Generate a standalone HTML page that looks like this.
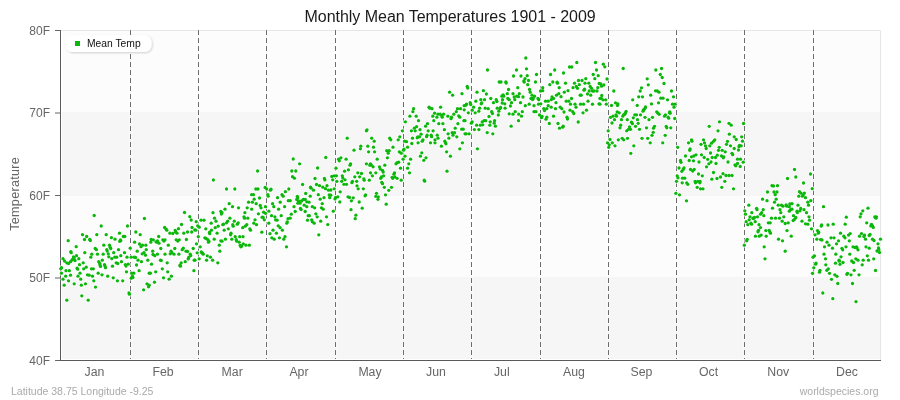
<!DOCTYPE html>
<html><head><meta charset="utf-8"><title>Monthly Mean Temperatures 1901 - 2009</title>
<style>
html,body{margin:0;padding:0;background:#fff;}
body{width:900px;height:400px;overflow:hidden;font-family:"Liberation Sans",sans-serif;}
svg{display:block;font-family:"Liberation Sans",sans-serif;}
</style></head><body>
<svg width="900" height="400" viewBox="0 0 900 400">
<defs>
<filter id="sh" x="-10%" y="-30%" width="120%" height="170%"><feGaussianBlur in="SourceAlpha" stdDeviation="1.2"/><feOffset dx="1" dy="1"/><feComponentTransfer><feFuncA type="linear" slope="0.18"/></feComponentTransfer><feMerge><feMergeNode/><feMergeNode in="SourceGraphic"/></feMerge></filter>
</defs>
<rect x="0" y="0" width="900" height="400" fill="#ffffff"/>
<g opacity="0.999">

<rect x="62" y="31" width="818" height="81" fill="#fcfcfc"/>
<rect x="62" y="112" width="818" height="84" fill="#f6f6f6"/>
<rect x="62" y="196" width="818" height="81" fill="#fcfcfc"/>
<rect x="62" y="277" width="818" height="82" fill="#f6f6f6"/>
<path d="M61 30.5H880.5V360" fill="none" stroke="#e6e6e6" stroke-width="1"/>
<line x1="130.5" y1="29.5" x2="130.5" y2="359" stroke="#fff" stroke-opacity="0.6" stroke-width="3" stroke-dasharray="6 2"/>
<line x1="130.5" y1="30" x2="130.5" y2="359" stroke="#6c6c6c" stroke-width="1" stroke-dasharray="5 3"/>
<line x1="198.5" y1="29.5" x2="198.5" y2="359" stroke="#fff" stroke-opacity="0.6" stroke-width="3" stroke-dasharray="6 2"/>
<line x1="198.5" y1="30" x2="198.5" y2="359" stroke="#6c6c6c" stroke-width="1" stroke-dasharray="5 3"/>
<line x1="266.5" y1="29.5" x2="266.5" y2="359" stroke="#fff" stroke-opacity="0.6" stroke-width="3" stroke-dasharray="6 2"/>
<line x1="266.5" y1="30" x2="266.5" y2="359" stroke="#6c6c6c" stroke-width="1" stroke-dasharray="5 3"/>
<line x1="335.5" y1="29.5" x2="335.5" y2="359" stroke="#fff" stroke-opacity="0.6" stroke-width="3" stroke-dasharray="6 2"/>
<line x1="335.5" y1="30" x2="335.5" y2="359" stroke="#6c6c6c" stroke-width="1" stroke-dasharray="5 3"/>
<line x1="403.5" y1="29.5" x2="403.5" y2="359" stroke="#fff" stroke-opacity="0.6" stroke-width="3" stroke-dasharray="6 2"/>
<line x1="403.5" y1="30" x2="403.5" y2="359" stroke="#6c6c6c" stroke-width="1" stroke-dasharray="5 3"/>
<line x1="471.5" y1="29.5" x2="471.5" y2="359" stroke="#fff" stroke-opacity="0.6" stroke-width="3" stroke-dasharray="6 2"/>
<line x1="471.5" y1="30" x2="471.5" y2="359" stroke="#6c6c6c" stroke-width="1" stroke-dasharray="5 3"/>
<line x1="540.5" y1="29.5" x2="540.5" y2="359" stroke="#fff" stroke-opacity="0.6" stroke-width="3" stroke-dasharray="6 2"/>
<line x1="540.5" y1="30" x2="540.5" y2="359" stroke="#6c6c6c" stroke-width="1" stroke-dasharray="5 3"/>
<line x1="608.5" y1="29.5" x2="608.5" y2="359" stroke="#fff" stroke-opacity="0.6" stroke-width="3" stroke-dasharray="6 2"/>
<line x1="608.5" y1="30" x2="608.5" y2="359" stroke="#6c6c6c" stroke-width="1" stroke-dasharray="5 3"/>
<line x1="676.5" y1="29.5" x2="676.5" y2="359" stroke="#fff" stroke-opacity="0.6" stroke-width="3" stroke-dasharray="6 2"/>
<line x1="676.5" y1="30" x2="676.5" y2="359" stroke="#6c6c6c" stroke-width="1" stroke-dasharray="5 3"/>
<line x1="744.5" y1="29.5" x2="744.5" y2="359" stroke="#fff" stroke-opacity="0.6" stroke-width="3" stroke-dasharray="6 2"/>
<line x1="744.5" y1="30" x2="744.5" y2="359" stroke="#6c6c6c" stroke-width="1" stroke-dasharray="5 3"/>
<line x1="813.5" y1="29.5" x2="813.5" y2="359" stroke="#fff" stroke-opacity="0.6" stroke-width="3" stroke-dasharray="6 2"/>
<line x1="813.5" y1="30" x2="813.5" y2="359" stroke="#6c6c6c" stroke-width="1" stroke-dasharray="5 3"/>
<rect x="60" y="30" width="1" height="331" fill="#5a5a5a"/>
<rect x="60" y="360" width="821" height="1" fill="#5a5a5a"/>
<rect x="55" y="30.0" width="5" height="1" fill="#666"/>
<text x="50" y="34.5" font-size="12" fill="#666" text-anchor="end">80F</text>
<rect x="55" y="112.5" width="5" height="1" fill="#666"/>
<text x="50" y="117.0" font-size="12" fill="#666" text-anchor="end">70F</text>
<rect x="55" y="195.0" width="5" height="1" fill="#666"/>
<text x="50" y="199.5" font-size="12" fill="#666" text-anchor="end">60F</text>
<rect x="55" y="277.5" width="5" height="1" fill="#666"/>
<text x="50" y="282.0" font-size="12" fill="#666" text-anchor="end">50F</text>
<rect x="55" y="360.0" width="5" height="1" fill="#666"/>
<text x="50" y="364.5" font-size="12" fill="#666" text-anchor="end">40F</text>
<g fill="#ffffff" fill-opacity="0.75">
<circle cx="94.2" cy="215.5" r="2.5"/><circle cx="101.2" cy="226.0" r="2.5"/><circle cx="127.5" cy="226.0" r="2.5"/><circle cx="144.4" cy="218.5" r="2.5"/><circle cx="184.5" cy="212.5" r="2.5"/><circle cx="189.8" cy="216.7" r="2.5"/><circle cx="191.2" cy="220.0" r="2.5"/><circle cx="181.5" cy="224.5" r="2.5"/><circle cx="164.6" cy="227.5" r="2.5"/><circle cx="166.8" cy="230.2" r="2.5"/><circle cx="178.5" cy="228.7" r="2.5"/><circle cx="175.2" cy="230.5" r="2.5"/><circle cx="192.0" cy="227.5" r="2.5"/><circle cx="194.7" cy="229.8" r="2.5"/><circle cx="187.5" cy="232.0" r="2.5"/><circle cx="191.7" cy="232.0" r="2.5"/><circle cx="183.8" cy="233.2" r="2.5"/><circle cx="169.9" cy="233.2" r="2.5"/><circle cx="172.8" cy="233.5" r="2.5"/><circle cx="177.0" cy="233.2" r="2.5"/><circle cx="135.8" cy="232.0" r="2.5"/><circle cx="140.2" cy="234.7" r="2.5"/><circle cx="82.5" cy="234.7" r="2.5"/><circle cx="86.7" cy="236.5" r="2.5"/><circle cx="84.5" cy="239.5" r="2.5"/><circle cx="89.7" cy="239.5" r="2.5"/><circle cx="96.8" cy="234.7" r="2.5"/><circle cx="106.2" cy="234.7" r="2.5"/><circle cx="111.4" cy="237.7" r="2.5"/><circle cx="115.0" cy="239.2" r="2.5"/><circle cx="119.5" cy="233.2" r="2.5"/><circle cx="123.3" cy="236.5" r="2.5"/><circle cx="124.8" cy="236.5" r="2.5"/><circle cx="120.8" cy="240.7" r="2.5"/><circle cx="119.7" cy="241.3" r="2.5"/><circle cx="68.2" cy="240.7" r="2.5"/><circle cx="158.7" cy="236.5" r="2.5"/><circle cx="151.2" cy="239.5" r="2.5"/><circle cx="153.3" cy="239.8" r="2.5"/><circle cx="157.5" cy="241.0" r="2.5"/><circle cx="159.0" cy="243.2" r="2.5"/><circle cx="156.0" cy="241.8" r="2.5"/><circle cx="150.8" cy="242.2" r="2.5"/><circle cx="162.8" cy="239.8" r="2.5"/><circle cx="165.0" cy="239.8" r="2.5"/><circle cx="163.9" cy="241.0" r="2.5"/><circle cx="176.2" cy="239.8" r="2.5"/><circle cx="179.2" cy="239.8" r="2.5"/><circle cx="177.8" cy="241.0" r="2.5"/><circle cx="186.4" cy="239.5" r="2.5"/><circle cx="134.6" cy="242.2" r="2.5"/><circle cx="139.5" cy="244.0" r="2.5"/><circle cx="142.5" cy="245.2" r="2.5"/><circle cx="145.8" cy="245.2" r="2.5"/><circle cx="141.0" cy="246.7" r="2.5"/><circle cx="76.2" cy="246.7" r="2.5"/><circle cx="103.8" cy="245.2" r="2.5"/><circle cx="109.5" cy="245.2" r="2.5"/><circle cx="110.2" cy="247.3" r="2.5"/><circle cx="110.7" cy="248.5" r="2.5"/><circle cx="106.8" cy="249.7" r="2.5"/><circle cx="95.2" cy="248.5" r="2.5"/><circle cx="96.4" cy="249.7" r="2.5"/><circle cx="118.5" cy="249.7" r="2.5"/><circle cx="130.2" cy="248.2" r="2.5"/><circle cx="137.2" cy="251.2" r="2.5"/><circle cx="146.2" cy="249.7" r="2.5"/><circle cx="152.7" cy="251.2" r="2.5"/><circle cx="160.8" cy="248.5" r="2.5"/><circle cx="168.3" cy="245.2" r="2.5"/><circle cx="174.8" cy="248.5" r="2.5"/><circle cx="171.0" cy="251.2" r="2.5"/><circle cx="183.3" cy="248.2" r="2.5"/><circle cx="182.2" cy="249.7" r="2.5"/><circle cx="186.0" cy="251.2" r="2.5"/><circle cx="187.5" cy="251.5" r="2.5"/><circle cx="193.2" cy="248.5" r="2.5"/><circle cx="71.2" cy="252.7" r="2.5"/><circle cx="84.8" cy="252.7" r="2.5"/><circle cx="91.8" cy="254.2" r="2.5"/><circle cx="90.8" cy="257.2" r="2.5"/><circle cx="97.5" cy="254.2" r="2.5"/><circle cx="103.2" cy="254.2" r="2.5"/><circle cx="108.3" cy="253.8" r="2.5"/><circle cx="108.8" cy="256.8" r="2.5"/><circle cx="113.7" cy="252.7" r="2.5"/><circle cx="120.8" cy="255.7" r="2.5"/><circle cx="124.5" cy="252.7" r="2.5"/><circle cx="127.0" cy="257.2" r="2.5"/><circle cx="131.2" cy="257.2" r="2.5"/><circle cx="134.2" cy="257.2" r="2.5"/><circle cx="142.2" cy="253.8" r="2.5"/><circle cx="144.0" cy="252.7" r="2.5"/><circle cx="145.5" cy="255.2" r="2.5"/><circle cx="154.8" cy="255.7" r="2.5"/><circle cx="153.0" cy="254.5" r="2.5"/><circle cx="157.5" cy="254.2" r="2.5"/><circle cx="165.0" cy="254.2" r="2.5"/><circle cx="170.2" cy="253.8" r="2.5"/><circle cx="171.8" cy="252.7" r="2.5"/><circle cx="174.0" cy="254.2" r="2.5"/><circle cx="178.9" cy="254.2" r="2.5"/><circle cx="190.2" cy="254.2" r="2.5"/><circle cx="188.7" cy="257.5" r="2.5"/><circle cx="63.0" cy="258.7" r="2.5"/><circle cx="76.5" cy="255.7" r="2.5"/><circle cx="74.2" cy="257.8" r="2.5"/><circle cx="72.8" cy="259.3" r="2.5"/><circle cx="78.8" cy="258.7" r="2.5"/><circle cx="70.5" cy="261.7" r="2.5"/><circle cx="66.8" cy="262.8" r="2.5"/><circle cx="75.0" cy="260.5" r="2.5"/><circle cx="83.2" cy="262.8" r="2.5"/><circle cx="79.5" cy="264.7" r="2.5"/><circle cx="98.7" cy="261.7" r="2.5"/><circle cx="102.3" cy="260.2" r="2.5"/><circle cx="99.8" cy="263.5" r="2.5"/><circle cx="111.8" cy="258.7" r="2.5"/><circle cx="114.8" cy="257.2" r="2.5"/><circle cx="116.7" cy="257.2" r="2.5"/><circle cx="116.2" cy="262.8" r="2.5"/><circle cx="117.8" cy="263.5" r="2.5"/><circle cx="121.5" cy="261.7" r="2.5"/><circle cx="104.5" cy="264.7" r="2.5"/><circle cx="138.0" cy="260.2" r="2.5"/><circle cx="141.4" cy="261.7" r="2.5"/><circle cx="147.8" cy="260.2" r="2.5"/><circle cx="160.5" cy="260.2" r="2.5"/><circle cx="161.2" cy="260.5" r="2.5"/><circle cx="167.2" cy="262.8" r="2.5"/><circle cx="181.2" cy="262.8" r="2.5"/><circle cx="185.2" cy="261.7" r="2.5"/><circle cx="194.2" cy="260.2" r="2.5"/><circle cx="128.2" cy="264.2" r="2.5"/><circle cx="151.5" cy="264.2" r="2.5"/><circle cx="61.5" cy="267.7" r="2.5"/><circle cx="60.8" cy="268.8" r="2.5"/><circle cx="66.0" cy="270.7" r="2.5"/><circle cx="69.3" cy="270.7" r="2.5"/><circle cx="61.5" cy="273.2" r="2.5"/><circle cx="65.7" cy="276.2" r="2.5"/><circle cx="70.5" cy="275.2" r="2.5"/><circle cx="63.0" cy="279.2" r="2.5"/><circle cx="68.5" cy="280.8" r="2.5"/><circle cx="64.2" cy="285.2" r="2.5"/><circle cx="74.2" cy="283.8" r="2.5"/><circle cx="77.7" cy="269.2" r="2.5"/><circle cx="80.0" cy="273.2" r="2.5"/><circle cx="78.0" cy="276.2" r="2.5"/><circle cx="80.7" cy="279.2" r="2.5"/><circle cx="81.3" cy="285.2" r="2.5"/><circle cx="83.7" cy="268.8" r="2.5"/><circle cx="86.2" cy="267.2" r="2.5"/><circle cx="85.5" cy="283.8" r="2.5"/><circle cx="87.5" cy="274.8" r="2.5"/><circle cx="89.2" cy="275.2" r="2.5"/><circle cx="91.5" cy="268.8" r="2.5"/><circle cx="93.3" cy="268.8" r="2.5"/><circle cx="92.5" cy="276.2" r="2.5"/><circle cx="93.8" cy="280.8" r="2.5"/><circle cx="95.5" cy="287.1" r="2.5"/><circle cx="98.2" cy="273.2" r="2.5"/><circle cx="102.0" cy="274.8" r="2.5"/><circle cx="107.7" cy="276.2" r="2.5"/><circle cx="113.2" cy="277.8" r="2.5"/><circle cx="117.4" cy="280.8" r="2.5"/><circle cx="122.7" cy="280.8" r="2.5"/><circle cx="126.5" cy="271.8" r="2.5"/><circle cx="66.8" cy="300.2" r="2.5"/><circle cx="81.8" cy="295.8" r="2.5"/><circle cx="88.2" cy="300.2" r="2.5"/><circle cx="129.0" cy="292.8" r="2.5"/><circle cx="129.4" cy="294.2" r="2.5"/><circle cx="131.7" cy="273.2" r="2.5"/><circle cx="133.8" cy="273.2" r="2.5"/><circle cx="132.4" cy="276.2" r="2.5"/><circle cx="131.2" cy="278.2" r="2.5"/><circle cx="139.1" cy="270.7" r="2.5"/><circle cx="149.2" cy="273.2" r="2.5"/><circle cx="150.4" cy="273.2" r="2.5"/><circle cx="155.7" cy="271.8" r="2.5"/><circle cx="162.3" cy="268.8" r="2.5"/><circle cx="167.7" cy="271.8" r="2.5"/><circle cx="171.4" cy="276.2" r="2.5"/><circle cx="163.5" cy="277.8" r="2.5"/><circle cx="169.1" cy="279.2" r="2.5"/><circle cx="154.5" cy="282.2" r="2.5"/><circle cx="147.0" cy="283.8" r="2.5"/><circle cx="149.2" cy="285.2" r="2.5"/><circle cx="148.5" cy="286.8" r="2.5"/><circle cx="143.6" cy="289.8" r="2.5"/><circle cx="180.4" cy="266.2" r="2.5"/><circle cx="193.9" cy="270.7" r="2.5"/><circle cx="112.5" cy="266.2" r="2.5"/><circle cx="136.5" cy="265.0" r="2.5"/><circle cx="213.4" cy="180.0" r="2.5"/><circle cx="257.6" cy="171.0" r="2.5"/><circle cx="226.5" cy="189.0" r="2.5"/><circle cx="234.8" cy="189.0" r="2.5"/><circle cx="255.8" cy="189.0" r="2.5"/><circle cx="258.0" cy="189.0" r="2.5"/><circle cx="265.1" cy="187.5" r="2.5"/><circle cx="266.7" cy="189.0" r="2.5"/><circle cx="270.4" cy="190.2" r="2.5"/><circle cx="251.6" cy="194.7" r="2.5"/><circle cx="253.5" cy="194.7" r="2.5"/><circle cx="254.2" cy="199.2" r="2.5"/><circle cx="259.5" cy="198.0" r="2.5"/><circle cx="248.6" cy="202.2" r="2.5"/><circle cx="252.4" cy="202.2" r="2.5"/><circle cx="256.2" cy="203.7" r="2.5"/><circle cx="229.2" cy="203.7" r="2.5"/><circle cx="232.5" cy="206.7" r="2.5"/><circle cx="238.5" cy="207.8" r="2.5"/><circle cx="247.2" cy="207.8" r="2.5"/><circle cx="225.0" cy="209.2" r="2.5"/><circle cx="251.7" cy="209.2" r="2.5"/><circle cx="260.2" cy="205.5" r="2.5"/><circle cx="261.0" cy="207.8" r="2.5"/><circle cx="265.5" cy="206.7" r="2.5"/><circle cx="267.8" cy="194.7" r="2.5"/><circle cx="268.2" cy="196.2" r="2.5"/><circle cx="272.6" cy="203.7" r="2.5"/><circle cx="273.8" cy="206.7" r="2.5"/><circle cx="277.5" cy="197.7" r="2.5"/><circle cx="280.2" cy="202.2" r="2.5"/><circle cx="282.0" cy="194.7" r="2.5"/><circle cx="283.2" cy="196.2" r="2.5"/><circle cx="285.4" cy="191.7" r="2.5"/><circle cx="288.8" cy="189.0" r="2.5"/><circle cx="288.3" cy="200.7" r="2.5"/><circle cx="290.2" cy="200.7" r="2.5"/><circle cx="284.6" cy="206.7" r="2.5"/><circle cx="278.6" cy="209.2" r="2.5"/><circle cx="293.2" cy="159.0" r="2.5"/><circle cx="299.6" cy="163.8" r="2.5"/><circle cx="291.8" cy="171.0" r="2.5"/><circle cx="295.8" cy="171.0" r="2.5"/><circle cx="292.5" cy="176.7" r="2.5"/><circle cx="294.4" cy="178.2" r="2.5"/><circle cx="302.6" cy="184.5" r="2.5"/><circle cx="305.7" cy="193.5" r="2.5"/><circle cx="297.8" cy="197.7" r="2.5"/><circle cx="296.7" cy="199.5" r="2.5"/><circle cx="298.5" cy="201.0" r="2.5"/><circle cx="297.8" cy="203.2" r="2.5"/><circle cx="301.5" cy="201.0" r="2.5"/><circle cx="300.0" cy="203.2" r="2.5"/><circle cx="303.3" cy="199.5" r="2.5"/><circle cx="305.2" cy="199.5" r="2.5"/><circle cx="306.8" cy="201.8" r="2.5"/><circle cx="309.0" cy="202.2" r="2.5"/><circle cx="304.2" cy="205.2" r="2.5"/><circle cx="306.8" cy="206.7" r="2.5"/><circle cx="294.0" cy="206.7" r="2.5"/><circle cx="300.4" cy="208.5" r="2.5"/><circle cx="310.5" cy="187.2" r="2.5"/><circle cx="313.5" cy="190.2" r="2.5"/><circle cx="310.2" cy="196.2" r="2.5"/><circle cx="312.3" cy="206.7" r="2.5"/><circle cx="314.6" cy="207.8" r="2.5"/><circle cx="317.6" cy="168.0" r="2.5"/><circle cx="315.0" cy="178.5" r="2.5"/><circle cx="324.4" cy="178.5" r="2.5"/><circle cx="316.5" cy="184.5" r="2.5"/><circle cx="319.5" cy="185.7" r="2.5"/><circle cx="322.8" cy="187.2" r="2.5"/><circle cx="325.5" cy="188.7" r="2.5"/><circle cx="327.0" cy="185.7" r="2.5"/><circle cx="328.5" cy="190.2" r="2.5"/><circle cx="318.3" cy="194.7" r="2.5"/><circle cx="320.2" cy="199.2" r="2.5"/><circle cx="324.0" cy="197.7" r="2.5"/><circle cx="322.2" cy="203.7" r="2.5"/><circle cx="321.4" cy="207.8" r="2.5"/><circle cx="323.2" cy="209.2" r="2.5"/><circle cx="325.8" cy="157.5" r="2.5"/><circle cx="329.2" cy="195.0" r="2.5"/><circle cx="329.7" cy="197.7" r="2.5"/><circle cx="213.0" cy="212.7" r="2.5"/><circle cx="220.8" cy="211.5" r="2.5"/><circle cx="222.0" cy="212.7" r="2.5"/><circle cx="244.9" cy="212.7" r="2.5"/><circle cx="258.4" cy="213.8" r="2.5"/><circle cx="263.6" cy="212.2" r="2.5"/><circle cx="265.5" cy="213.3" r="2.5"/><circle cx="263.2" cy="217.5" r="2.5"/><circle cx="264.3" cy="219.8" r="2.5"/><circle cx="262.1" cy="217.2" r="2.5"/><circle cx="201.0" cy="220.2" r="2.5"/><circle cx="204.0" cy="220.2" r="2.5"/><circle cx="196.2" cy="221.7" r="2.5"/><circle cx="214.5" cy="218.2" r="2.5"/><circle cx="216.0" cy="221.2" r="2.5"/><circle cx="211.2" cy="223.2" r="2.5"/><circle cx="229.9" cy="218.2" r="2.5"/><circle cx="227.7" cy="221.2" r="2.5"/><circle cx="226.5" cy="222.8" r="2.5"/><circle cx="223.5" cy="224.2" r="2.5"/><circle cx="222.8" cy="224.7" r="2.5"/><circle cx="234.3" cy="221.2" r="2.5"/><circle cx="238.2" cy="222.8" r="2.5"/><circle cx="237.3" cy="224.2" r="2.5"/><circle cx="232.8" cy="224.7" r="2.5"/><circle cx="233.2" cy="226.2" r="2.5"/><circle cx="244.5" cy="218.2" r="2.5"/><circle cx="247.8" cy="218.2" r="2.5"/><circle cx="246.8" cy="224.7" r="2.5"/><circle cx="245.2" cy="226.2" r="2.5"/><circle cx="242.7" cy="227.7" r="2.5"/><circle cx="255.0" cy="219.8" r="2.5"/><circle cx="253.8" cy="223.2" r="2.5"/><circle cx="256.5" cy="224.7" r="2.5"/><circle cx="249.8" cy="228.8" r="2.5"/><circle cx="250.5" cy="230.2" r="2.5"/><circle cx="197.7" cy="225.8" r="2.5"/><circle cx="199.2" cy="227.2" r="2.5"/><circle cx="195.8" cy="230.2" r="2.5"/><circle cx="205.8" cy="228.8" r="2.5"/><circle cx="211.5" cy="230.2" r="2.5"/><circle cx="209.6" cy="232.2" r="2.5"/><circle cx="209.7" cy="233.7" r="2.5"/><circle cx="217.1" cy="233.2" r="2.5"/><circle cx="218.2" cy="226.2" r="2.5"/><circle cx="215.2" cy="227.7" r="2.5"/><circle cx="224.2" cy="230.2" r="2.5"/><circle cx="228.3" cy="228.8" r="2.5"/><circle cx="231.0" cy="233.2" r="2.5"/><circle cx="230.6" cy="234.8" r="2.5"/><circle cx="261.8" cy="232.2" r="2.5"/><circle cx="198.3" cy="236.7" r="2.5"/><circle cx="204.8" cy="237.8" r="2.5"/><circle cx="206.2" cy="238.5" r="2.5"/><circle cx="207.8" cy="239.7" r="2.5"/><circle cx="208.5" cy="242.2" r="2.5"/><circle cx="214.2" cy="239.2" r="2.5"/><circle cx="220.8" cy="240.8" r="2.5"/><circle cx="222.0" cy="241.2" r="2.5"/><circle cx="225.4" cy="239.2" r="2.5"/><circle cx="231.8" cy="239.2" r="2.5"/><circle cx="235.2" cy="236.7" r="2.5"/><circle cx="236.2" cy="239.7" r="2.5"/><circle cx="236.7" cy="241.2" r="2.5"/><circle cx="239.7" cy="236.7" r="2.5"/><circle cx="243.0" cy="236.7" r="2.5"/><circle cx="239.2" cy="242.2" r="2.5"/><circle cx="243.3" cy="243.8" r="2.5"/><circle cx="246.0" cy="245.2" r="2.5"/><circle cx="249.3" cy="245.2" r="2.5"/><circle cx="240.8" cy="246.8" r="2.5"/><circle cx="241.8" cy="246.0" r="2.5"/><circle cx="196.5" cy="243.8" r="2.5"/><circle cx="200.2" cy="246.8" r="2.5"/><circle cx="219.3" cy="245.2" r="2.5"/><circle cx="219.8" cy="251.2" r="2.5"/><circle cx="197.2" cy="252.8" r="2.5"/><circle cx="201.8" cy="252.8" r="2.5"/><circle cx="203.2" cy="254.2" r="2.5"/><circle cx="207.3" cy="255.8" r="2.5"/><circle cx="210.4" cy="257.2" r="2.5"/><circle cx="212.6" cy="260.2" r="2.5"/><circle cx="206.6" cy="260.2" r="2.5"/><circle cx="199.2" cy="258.8" r="2.5"/><circle cx="195.0" cy="260.2" r="2.5"/><circle cx="217.8" cy="262.8" r="2.5"/><circle cx="268.9" cy="211.2" r="2.5"/><circle cx="271.5" cy="215.7" r="2.5"/><circle cx="274.9" cy="216.8" r="2.5"/><circle cx="275.6" cy="219.8" r="2.5"/><circle cx="277.1" cy="220.2" r="2.5"/><circle cx="281.2" cy="215.7" r="2.5"/><circle cx="268.8" cy="223.2" r="2.5"/><circle cx="278.2" cy="225.8" r="2.5"/><circle cx="280.1" cy="227.7" r="2.5"/><circle cx="282.4" cy="230.2" r="2.5"/><circle cx="273.0" cy="230.2" r="2.5"/><circle cx="270.0" cy="233.7" r="2.5"/><circle cx="276.4" cy="233.2" r="2.5"/><circle cx="271.8" cy="237.8" r="2.5"/><circle cx="274.2" cy="239.2" r="2.5"/><circle cx="279.4" cy="237.8" r="2.5"/><circle cx="285.0" cy="236.7" r="2.5"/><circle cx="283.8" cy="239.2" r="2.5"/><circle cx="286.5" cy="246.8" r="2.5"/><circle cx="286.8" cy="223.2" r="2.5"/><circle cx="288.0" cy="218.7" r="2.5"/><circle cx="290.2" cy="218.2" r="2.5"/><circle cx="291.3" cy="214.2" r="2.5"/><circle cx="295.2" cy="211.5" r="2.5"/><circle cx="305.2" cy="211.5" r="2.5"/><circle cx="308.2" cy="215.7" r="2.5"/><circle cx="309.4" cy="215.7" r="2.5"/><circle cx="307.5" cy="220.2" r="2.5"/><circle cx="311.7" cy="219.8" r="2.5"/><circle cx="312.3" cy="221.7" r="2.5"/><circle cx="314.2" cy="223.2" r="2.5"/><circle cx="315.8" cy="213.8" r="2.5"/><circle cx="317.2" cy="216.8" r="2.5"/><circle cx="320.7" cy="221.2" r="2.5"/><circle cx="326.5" cy="216.8" r="2.5"/><circle cx="327.8" cy="224.6" r="2.5"/><circle cx="318.8" cy="234.8" r="2.5"/><circle cx="347.2" cy="138.2" r="2.5"/><circle cx="366.4" cy="130.8" r="2.5"/><circle cx="371.7" cy="138.2" r="2.5"/><circle cx="374.2" cy="141.2" r="2.5"/><circle cx="389.7" cy="138.2" r="2.5"/><circle cx="390.8" cy="139.8" r="2.5"/><circle cx="398.2" cy="139.8" r="2.5"/><circle cx="399.8" cy="136.8" r="2.5"/><circle cx="402.4" cy="130.8" r="2.5"/><circle cx="405.4" cy="121.8" r="2.5"/><circle cx="404.6" cy="141.2" r="2.5"/><circle cx="406.5" cy="141.7" r="2.5"/><circle cx="409.9" cy="116.2" r="2.5"/><circle cx="413.6" cy="108.7" r="2.5"/><circle cx="412.9" cy="111.7" r="2.5"/><circle cx="416.2" cy="116.2" r="2.5"/><circle cx="418.5" cy="120.7" r="2.5"/><circle cx="411.4" cy="130.8" r="2.5"/><circle cx="414.3" cy="128.2" r="2.5"/><circle cx="416.6" cy="126.7" r="2.5"/><circle cx="415.2" cy="130.8" r="2.5"/><circle cx="420.0" cy="129.7" r="2.5"/><circle cx="421.1" cy="134.2" r="2.5"/><circle cx="417.8" cy="136.8" r="2.5"/><circle cx="419.6" cy="136.8" r="2.5"/><circle cx="412.5" cy="138.2" r="2.5"/><circle cx="423.0" cy="139.8" r="2.5"/><circle cx="418.1" cy="142.8" r="2.5"/><circle cx="411.8" cy="143.5" r="2.5"/><circle cx="429.0" cy="107.2" r="2.5"/><circle cx="429.8" cy="108.2" r="2.5"/><circle cx="432.0" cy="108.7" r="2.5"/><circle cx="425.6" cy="126.2" r="2.5"/><circle cx="427.5" cy="123.7" r="2.5"/><circle cx="428.2" cy="130.8" r="2.5"/><circle cx="427.1" cy="135.2" r="2.5"/><circle cx="431.2" cy="135.2" r="2.5"/><circle cx="433.1" cy="130.8" r="2.5"/><circle cx="432.8" cy="116.2" r="2.5"/><circle cx="434.6" cy="113.2" r="2.5"/><circle cx="436.9" cy="117.2" r="2.5"/><circle cx="433.8" cy="120.7" r="2.5"/><circle cx="438.0" cy="114.2" r="2.5"/><circle cx="440.2" cy="114.2" r="2.5"/><circle cx="441.8" cy="115.8" r="2.5"/><circle cx="443.6" cy="114.2" r="2.5"/><circle cx="442.2" cy="117.2" r="2.5"/><circle cx="438.8" cy="123.7" r="2.5"/><circle cx="442.9" cy="123.7" r="2.5"/><circle cx="440.6" cy="107.2" r="2.5"/><circle cx="444.4" cy="129.7" r="2.5"/><circle cx="437.2" cy="135.2" r="2.5"/><circle cx="438.0" cy="138.2" r="2.5"/><circle cx="435.0" cy="139.8" r="2.5"/><circle cx="435.0" cy="142.8" r="2.5"/><circle cx="430.5" cy="142.8" r="2.5"/><circle cx="444.8" cy="141.2" r="2.5"/><circle cx="445.5" cy="142.8" r="2.5"/><circle cx="449.6" cy="92.2" r="2.5"/><circle cx="452.6" cy="95.2" r="2.5"/><circle cx="462.0" cy="93.7" r="2.5"/><circle cx="447.8" cy="116.2" r="2.5"/><circle cx="451.5" cy="117.2" r="2.5"/><circle cx="453.8" cy="114.2" r="2.5"/><circle cx="456.3" cy="111.7" r="2.5"/><circle cx="457.5" cy="108.7" r="2.5"/><circle cx="460.5" cy="108.7" r="2.5"/><circle cx="464.2" cy="105.7" r="2.5"/><circle cx="458.7" cy="115.8" r="2.5"/><circle cx="459.8" cy="117.2" r="2.5"/><circle cx="463.9" cy="120.7" r="2.5"/><circle cx="457.9" cy="123.7" r="2.5"/><circle cx="455.2" cy="128.2" r="2.5"/><circle cx="452.2" cy="132.7" r="2.5"/><circle cx="454.5" cy="132.7" r="2.5"/><circle cx="448.1" cy="133.8" r="2.5"/><circle cx="453.0" cy="135.2" r="2.5"/><circle cx="456.8" cy="136.8" r="2.5"/><circle cx="448.9" cy="138.2" r="2.5"/><circle cx="461.7" cy="129.2" r="2.5"/><circle cx="463.2" cy="129.2" r="2.5"/><circle cx="465.0" cy="133.8" r="2.5"/><circle cx="462.4" cy="142.8" r="2.5"/><circle cx="464.2" cy="109.8" r="2.5"/><circle cx="354.0" cy="150.2" r="2.5"/><circle cx="360.8" cy="146.2" r="2.5"/><circle cx="360.4" cy="148.8" r="2.5"/><circle cx="367.8" cy="146.2" r="2.5"/><circle cx="368.6" cy="151.8" r="2.5"/><circle cx="373.5" cy="147.2" r="2.5"/><circle cx="374.6" cy="151.8" r="2.5"/><circle cx="393.0" cy="147.2" r="2.5"/><circle cx="386.7" cy="150.7" r="2.5"/><circle cx="389.2" cy="150.7" r="2.5"/><circle cx="388.2" cy="153.2" r="2.5"/><circle cx="387.4" cy="157.8" r="2.5"/><circle cx="399.3" cy="151.8" r="2.5"/><circle cx="401.2" cy="153.2" r="2.5"/><circle cx="403.5" cy="150.2" r="2.5"/><circle cx="403.1" cy="159.2" r="2.5"/><circle cx="405.0" cy="156.2" r="2.5"/><circle cx="338.6" cy="159.2" r="2.5"/><circle cx="339.3" cy="160.8" r="2.5"/><circle cx="340.9" cy="157.8" r="2.5"/><circle cx="346.1" cy="159.2" r="2.5"/><circle cx="350.6" cy="163.8" r="2.5"/><circle cx="377.2" cy="159.2" r="2.5"/><circle cx="366.4" cy="163.8" r="2.5"/><circle cx="370.5" cy="163.8" r="2.5"/><circle cx="369.8" cy="165.2" r="2.5"/><circle cx="373.1" cy="166.8" r="2.5"/><circle cx="384.8" cy="165.2" r="2.5"/><circle cx="379.5" cy="166.8" r="2.5"/><circle cx="380.2" cy="169.0" r="2.5"/><circle cx="382.5" cy="170.5" r="2.5"/><circle cx="383.2" cy="172.0" r="2.5"/><circle cx="396.0" cy="163.8" r="2.5"/><circle cx="397.1" cy="162.7" r="2.5"/><circle cx="398.7" cy="162.2" r="2.5"/><circle cx="336.0" cy="168.2" r="2.5"/><circle cx="344.6" cy="171.2" r="2.5"/><circle cx="348.4" cy="169.8" r="2.5"/><circle cx="357.8" cy="172.8" r="2.5"/><circle cx="361.5" cy="173.5" r="2.5"/><circle cx="370.5" cy="172.8" r="2.5"/><circle cx="375.8" cy="172.8" r="2.5"/><circle cx="372.4" cy="175.8" r="2.5"/><circle cx="400.5" cy="168.2" r="2.5"/><circle cx="394.5" cy="172.8" r="2.5"/><circle cx="331.8" cy="176.5" r="2.5"/><circle cx="334.2" cy="175.8" r="2.5"/><circle cx="336.4" cy="175.8" r="2.5"/><circle cx="332.7" cy="179.8" r="2.5"/><circle cx="336.8" cy="181.3" r="2.5"/><circle cx="342.3" cy="175.8" r="2.5"/><circle cx="342.8" cy="178.0" r="2.5"/><circle cx="345.0" cy="179.8" r="2.5"/><circle cx="341.7" cy="181.3" r="2.5"/><circle cx="343.9" cy="184.3" r="2.5"/><circle cx="346.5" cy="184.3" r="2.5"/><circle cx="354.8" cy="176.8" r="2.5"/><circle cx="359.6" cy="176.8" r="2.5"/><circle cx="352.5" cy="181.3" r="2.5"/><circle cx="356.7" cy="181.3" r="2.5"/><circle cx="364.2" cy="180.2" r="2.5"/><circle cx="369.3" cy="180.2" r="2.5"/><circle cx="383.6" cy="175.8" r="2.5"/><circle cx="380.7" cy="178.3" r="2.5"/><circle cx="381.8" cy="182.5" r="2.5"/><circle cx="382.5" cy="183.7" r="2.5"/><circle cx="392.7" cy="178.3" r="2.5"/><circle cx="394.8" cy="176.8" r="2.5"/><circle cx="397.1" cy="178.3" r="2.5"/><circle cx="401.2" cy="180.2" r="2.5"/><circle cx="330.8" cy="190.0" r="2.5"/><circle cx="334.2" cy="188.8" r="2.5"/><circle cx="340.2" cy="191.8" r="2.5"/><circle cx="357.0" cy="185.8" r="2.5"/><circle cx="358.2" cy="188.8" r="2.5"/><circle cx="363.3" cy="188.8" r="2.5"/><circle cx="384.3" cy="187.3" r="2.5"/><circle cx="391.5" cy="187.3" r="2.5"/><circle cx="388.8" cy="190.3" r="2.5"/><circle cx="330.8" cy="195.2" r="2.5"/><circle cx="335.6" cy="197.5" r="2.5"/><circle cx="337.8" cy="196.8" r="2.5"/><circle cx="348.0" cy="196.8" r="2.5"/><circle cx="349.5" cy="197.5" r="2.5"/><circle cx="353.2" cy="197.8" r="2.5"/><circle cx="351.4" cy="200.8" r="2.5"/><circle cx="339.8" cy="202.0" r="2.5"/><circle cx="359.2" cy="202.0" r="2.5"/><circle cx="365.6" cy="194.8" r="2.5"/><circle cx="376.5" cy="193.3" r="2.5"/><circle cx="375.8" cy="196.3" r="2.5"/><circle cx="378.3" cy="196.8" r="2.5"/><circle cx="378.0" cy="199.3" r="2.5"/><circle cx="385.5" cy="194.8" r="2.5"/><circle cx="386.2" cy="204.2" r="2.5"/><circle cx="407.6" cy="147.2" r="2.5"/><circle cx="410.6" cy="159.2" r="2.5"/><circle cx="408.8" cy="163.8" r="2.5"/><circle cx="407.6" cy="168.2" r="2.5"/><circle cx="409.5" cy="172.8" r="2.5"/><circle cx="421.8" cy="152.8" r="2.5"/><circle cx="420.4" cy="156.2" r="2.5"/><circle cx="426.0" cy="157.8" r="2.5"/><circle cx="423.8" cy="160.3" r="2.5"/><circle cx="424.2" cy="180.2" r="2.5"/><circle cx="441.4" cy="146.2" r="2.5"/><circle cx="446.6" cy="151.8" r="2.5"/><circle cx="450.4" cy="156.2" r="2.5"/><circle cx="447.0" cy="171.2" r="2.5"/><circle cx="459.8" cy="148.8" r="2.5"/><circle cx="362.2" cy="208.2" r="2.5"/><circle cx="351.0" cy="209.7" r="2.5"/><circle cx="333.3" cy="211.2" r="2.5"/><circle cx="355.9" cy="215.2" r="2.5"/><circle cx="355.2" cy="218.7" r="2.5"/><circle cx="525.8" cy="58.0" r="2.5"/><circle cx="487.5" cy="70.0" r="2.5"/><circle cx="516.5" cy="70.0" r="2.5"/><circle cx="526.5" cy="68.8" r="2.5"/><circle cx="513.5" cy="76.0" r="2.5"/><circle cx="521.0" cy="76.0" r="2.5"/><circle cx="527.2" cy="75.7" r="2.5"/><circle cx="536.5" cy="74.5" r="2.5"/><circle cx="525.0" cy="78.7" r="2.5"/><circle cx="524.2" cy="82.0" r="2.5"/><circle cx="528.5" cy="80.5" r="2.5"/><circle cx="535.5" cy="82.0" r="2.5"/><circle cx="499.2" cy="82.0" r="2.5"/><circle cx="501.0" cy="82.0" r="2.5"/><circle cx="505.8" cy="82.0" r="2.5"/><circle cx="527.7" cy="84.7" r="2.5"/><circle cx="517.8" cy="87.7" r="2.5"/><circle cx="508.5" cy="89.5" r="2.5"/><circle cx="529.5" cy="89.5" r="2.5"/><circle cx="530.2" cy="92.2" r="2.5"/><circle cx="467.2" cy="86.5" r="2.5"/><circle cx="467.7" cy="88.0" r="2.5"/><circle cx="477.0" cy="92.2" r="2.5"/><circle cx="483.4" cy="90.7" r="2.5"/><circle cx="486.4" cy="94.0" r="2.5"/><circle cx="507.3" cy="93.7" r="2.5"/><circle cx="513.0" cy="93.7" r="2.5"/><circle cx="519.3" cy="93.7" r="2.5"/><circle cx="516.8" cy="96.2" r="2.5"/><circle cx="518.5" cy="96.7" r="2.5"/><circle cx="523.0" cy="97.0" r="2.5"/><circle cx="514.2" cy="97.0" r="2.5"/><circle cx="514.8" cy="99.7" r="2.5"/><circle cx="501.8" cy="96.2" r="2.5"/><circle cx="503.7" cy="96.2" r="2.5"/><circle cx="502.5" cy="99.7" r="2.5"/><circle cx="507.8" cy="98.5" r="2.5"/><circle cx="509.2" cy="99.7" r="2.5"/><circle cx="490.8" cy="98.5" r="2.5"/><circle cx="496.2" cy="99.7" r="2.5"/><circle cx="496.9" cy="101.5" r="2.5"/><circle cx="493.5" cy="102.7" r="2.5"/><circle cx="484.5" cy="99.7" r="2.5"/><circle cx="480.8" cy="99.7" r="2.5"/><circle cx="481.2" cy="103.8" r="2.5"/><circle cx="475.8" cy="101.2" r="2.5"/><circle cx="470.2" cy="102.7" r="2.5"/><circle cx="470.7" cy="104.5" r="2.5"/><circle cx="466.5" cy="104.2" r="2.5"/><circle cx="465.8" cy="105.2" r="2.5"/><circle cx="473.6" cy="107.2" r="2.5"/><circle cx="472.2" cy="110.2" r="2.5"/><circle cx="479.6" cy="108.2" r="2.5"/><circle cx="478.8" cy="111.2" r="2.5"/><circle cx="475.2" cy="112.8" r="2.5"/><circle cx="468.3" cy="112.8" r="2.5"/><circle cx="485.2" cy="108.2" r="2.5"/><circle cx="488.2" cy="108.7" r="2.5"/><circle cx="491.7" cy="111.7" r="2.5"/><circle cx="492.4" cy="113.5" r="2.5"/><circle cx="497.2" cy="108.2" r="2.5"/><circle cx="500.6" cy="107.5" r="2.5"/><circle cx="498.8" cy="111.2" r="2.5"/><circle cx="502.2" cy="103.0" r="2.5"/><circle cx="504.8" cy="103.8" r="2.5"/><circle cx="505.1" cy="108.2" r="2.5"/><circle cx="511.5" cy="102.7" r="2.5"/><circle cx="510.4" cy="106.0" r="2.5"/><circle cx="520.5" cy="102.7" r="2.5"/><circle cx="515.2" cy="111.7" r="2.5"/><circle cx="522.3" cy="111.7" r="2.5"/><circle cx="525.3" cy="105.7" r="2.5"/><circle cx="529.2" cy="104.2" r="2.5"/><circle cx="534.0" cy="105.7" r="2.5"/><circle cx="538.5" cy="104.2" r="2.5"/><circle cx="540.8" cy="103.8" r="2.5"/><circle cx="534.0" cy="111.7" r="2.5"/><circle cx="536.0" cy="111.7" r="2.5"/><circle cx="532.0" cy="95.2" r="2.5"/><circle cx="534.5" cy="96.2" r="2.5"/><circle cx="531.0" cy="98.5" r="2.5"/><circle cx="533.2" cy="98.5" r="2.5"/><circle cx="538.0" cy="98.5" r="2.5"/><circle cx="538.8" cy="99.7" r="2.5"/><circle cx="540.5" cy="91.0" r="2.5"/><circle cx="542.7" cy="87.7" r="2.5"/><circle cx="542.7" cy="90.7" r="2.5"/><circle cx="509.2" cy="113.8" r="2.5"/><circle cx="513.0" cy="114.2" r="2.5"/><circle cx="518.7" cy="114.2" r="2.5"/><circle cx="550.5" cy="74.5" r="2.5"/><circle cx="554.7" cy="70.0" r="2.5"/><circle cx="563.5" cy="73.0" r="2.5"/><circle cx="569.5" cy="67.0" r="2.5"/><circle cx="571.8" cy="67.0" r="2.5"/><circle cx="576.8" cy="62.5" r="2.5"/><circle cx="595.5" cy="62.5" r="2.5"/><circle cx="596.5" cy="70.0" r="2.5"/><circle cx="593.2" cy="74.5" r="2.5"/><circle cx="598.2" cy="75.7" r="2.5"/><circle cx="594.8" cy="78.7" r="2.5"/><circle cx="585.8" cy="78.7" r="2.5"/><circle cx="578.5" cy="80.5" r="2.5"/><circle cx="582.0" cy="80.5" r="2.5"/><circle cx="585.0" cy="83.2" r="2.5"/><circle cx="588.8" cy="83.2" r="2.5"/><circle cx="574.5" cy="83.2" r="2.5"/><circle cx="579.3" cy="84.7" r="2.5"/><circle cx="552.8" cy="82.0" r="2.5"/><circle cx="549.8" cy="84.7" r="2.5"/><circle cx="557.5" cy="83.2" r="2.5"/><circle cx="565.5" cy="83.2" r="2.5"/><circle cx="559.2" cy="87.7" r="2.5"/><circle cx="573.0" cy="87.7" r="2.5"/><circle cx="576.3" cy="86.5" r="2.5"/><circle cx="577.5" cy="88.3" r="2.5"/><circle cx="584.5" cy="89.2" r="2.5"/><circle cx="590.2" cy="86.5" r="2.5"/><circle cx="591.5" cy="88.3" r="2.5"/><circle cx="589.2" cy="91.0" r="2.5"/><circle cx="592.5" cy="91.0" r="2.5"/><circle cx="594.0" cy="91.0" r="2.5"/><circle cx="597.0" cy="91.0" r="2.5"/><circle cx="597.8" cy="87.7" r="2.5"/><circle cx="599.2" cy="83.5" r="2.5"/><circle cx="568.0" cy="90.7" r="2.5"/><circle cx="564.3" cy="92.2" r="2.5"/><circle cx="558.8" cy="93.7" r="2.5"/><circle cx="556.5" cy="95.2" r="2.5"/><circle cx="561.0" cy="96.7" r="2.5"/><circle cx="580.2" cy="95.2" r="2.5"/><circle cx="581.2" cy="95.2" r="2.5"/><circle cx="587.5" cy="94.0" r="2.5"/><circle cx="590.7" cy="95.2" r="2.5"/><circle cx="552.0" cy="97.0" r="2.5"/><circle cx="553.5" cy="98.5" r="2.5"/><circle cx="551.2" cy="99.7" r="2.5"/><circle cx="545.5" cy="101.2" r="2.5"/><circle cx="548.2" cy="101.2" r="2.5"/><circle cx="556.0" cy="102.7" r="2.5"/><circle cx="566.2" cy="101.2" r="2.5"/><circle cx="568.8" cy="101.2" r="2.5"/><circle cx="571.5" cy="98.5" r="2.5"/><circle cx="570.5" cy="104.2" r="2.5"/><circle cx="575.0" cy="104.2" r="2.5"/><circle cx="576.0" cy="107.2" r="2.5"/><circle cx="580.5" cy="104.2" r="2.5"/><circle cx="583.5" cy="104.2" r="2.5"/><circle cx="588.0" cy="101.2" r="2.5"/><circle cx="592.5" cy="104.2" r="2.5"/><circle cx="599.0" cy="103.8" r="2.5"/><circle cx="600.0" cy="98.5" r="2.5"/><circle cx="548.2" cy="105.7" r="2.5"/><circle cx="551.2" cy="107.2" r="2.5"/><circle cx="543.8" cy="108.7" r="2.5"/><circle cx="546.8" cy="108.7" r="2.5"/><circle cx="555.5" cy="108.7" r="2.5"/><circle cx="560.2" cy="107.2" r="2.5"/><circle cx="561.8" cy="108.7" r="2.5"/><circle cx="564.0" cy="112.0" r="2.5"/><circle cx="570.0" cy="110.2" r="2.5"/><circle cx="572.7" cy="111.7" r="2.5"/><circle cx="573.8" cy="113.5" r="2.5"/><circle cx="583.0" cy="112.8" r="2.5"/><circle cx="586.5" cy="110.2" r="2.5"/><circle cx="544.5" cy="110.5" r="2.5"/><circle cx="489.0" cy="116.5" r="2.5"/><circle cx="498.3" cy="115.0" r="2.5"/><circle cx="521.5" cy="116.2" r="2.5"/><circle cx="518.5" cy="120.7" r="2.5"/><circle cx="511.1" cy="126.2" r="2.5"/><circle cx="472.2" cy="121.8" r="2.5"/><circle cx="471.3" cy="123.2" r="2.5"/><circle cx="476.6" cy="125.2" r="2.5"/><circle cx="480.3" cy="125.2" r="2.5"/><circle cx="482.7" cy="124.8" r="2.5"/><circle cx="482.2" cy="121.8" r="2.5"/><circle cx="484.1" cy="120.7" r="2.5"/><circle cx="485.7" cy="120.7" r="2.5"/><circle cx="490.2" cy="121.8" r="2.5"/><circle cx="489.8" cy="125.2" r="2.5"/><circle cx="494.6" cy="120.7" r="2.5"/><circle cx="494.2" cy="123.2" r="2.5"/><circle cx="495.4" cy="126.2" r="2.5"/><circle cx="474.4" cy="129.6" r="2.5"/><circle cx="478.9" cy="129.6" r="2.5"/><circle cx="487.2" cy="132.6" r="2.5"/><circle cx="492.8" cy="133.8" r="2.5"/><circle cx="466.2" cy="133.8" r="2.5"/><circle cx="469.1" cy="133.8" r="2.5"/><circle cx="477.4" cy="148.8" r="2.5"/><circle cx="465.0" cy="120.7" r="2.5"/><circle cx="539.5" cy="115.0" r="2.5"/><circle cx="541.5" cy="117.7" r="2.5"/><circle cx="546.8" cy="117.2" r="2.5"/><circle cx="546.0" cy="119.2" r="2.5"/><circle cx="553.5" cy="116.2" r="2.5"/><circle cx="549.3" cy="123.5" r="2.5"/><circle cx="558.0" cy="123.5" r="2.5"/><circle cx="563.2" cy="126.2" r="2.5"/><circle cx="559.5" cy="128.2" r="2.5"/><circle cx="567.0" cy="117.2" r="2.5"/><circle cx="567.5" cy="119.0" r="2.5"/><circle cx="578.2" cy="122.0" r="2.5"/><circle cx="603.3" cy="64.2" r="2.5"/><circle cx="604.8" cy="66.8" r="2.5"/><circle cx="607.0" cy="79.0" r="2.5"/><circle cx="600.8" cy="84.0" r="2.5"/><circle cx="601.5" cy="86.2" r="2.5"/><circle cx="603.8" cy="85.0" r="2.5"/><circle cx="601.8" cy="95.5" r="2.5"/><circle cx="601.2" cy="98.2" r="2.5"/><circle cx="603.0" cy="99.8" r="2.5"/><circle cx="605.7" cy="99.8" r="2.5"/><circle cx="606.3" cy="104.2" r="2.5"/><circle cx="600.0" cy="104.2" r="2.5"/><circle cx="623.2" cy="68.5" r="2.5"/><circle cx="613.8" cy="91.0" r="2.5"/><circle cx="615.5" cy="102.8" r="2.5"/><circle cx="617.5" cy="105.4" r="2.5"/><circle cx="611.5" cy="105.4" r="2.5"/><circle cx="617.2" cy="111.8" r="2.5"/><circle cx="619.2" cy="112.8" r="2.5"/><circle cx="625.5" cy="112.8" r="2.5"/><circle cx="624.0" cy="114.3" r="2.5"/><circle cx="622.8" cy="116.2" r="2.5"/><circle cx="616.5" cy="116.2" r="2.5"/><circle cx="613.0" cy="116.2" r="2.5"/><circle cx="610.5" cy="117.3" r="2.5"/><circle cx="614.5" cy="119.7" r="2.5"/><circle cx="627.3" cy="119.7" r="2.5"/><circle cx="621.5" cy="119.7" r="2.5"/><circle cx="632.7" cy="99.8" r="2.5"/><circle cx="637.2" cy="105.4" r="2.5"/><circle cx="638.7" cy="96.8" r="2.5"/><circle cx="642.5" cy="96.8" r="2.5"/><circle cx="640.2" cy="91.0" r="2.5"/><circle cx="641.5" cy="87.8" r="2.5"/><circle cx="647.2" cy="78.8" r="2.5"/><circle cx="648.3" cy="84.8" r="2.5"/><circle cx="650.7" cy="95.2" r="2.5"/><circle cx="651.5" cy="103.9" r="2.5"/><circle cx="645.0" cy="108.3" r="2.5"/><circle cx="643.5" cy="109.8" r="2.5"/><circle cx="634.8" cy="114.8" r="2.5"/><circle cx="636.5" cy="114.8" r="2.5"/><circle cx="640.5" cy="114.8" r="2.5"/><circle cx="633.3" cy="117.8" r="2.5"/><circle cx="645.0" cy="117.3" r="2.5"/><circle cx="652.5" cy="117.3" r="2.5"/><circle cx="649.0" cy="119.7" r="2.5"/><circle cx="637.5" cy="119.7" r="2.5"/><circle cx="655.8" cy="70.0" r="2.5"/><circle cx="661.5" cy="68.5" r="2.5"/><circle cx="660.3" cy="74.5" r="2.5"/><circle cx="662.2" cy="77.5" r="2.5"/><circle cx="664.0" cy="83.5" r="2.5"/><circle cx="655.5" cy="90.8" r="2.5"/><circle cx="657.3" cy="91.0" r="2.5"/><circle cx="659.0" cy="92.2" r="2.5"/><circle cx="660.8" cy="98.2" r="2.5"/><circle cx="663.0" cy="98.2" r="2.5"/><circle cx="658.5" cy="102.8" r="2.5"/><circle cx="667.5" cy="99.8" r="2.5"/><circle cx="671.5" cy="91.0" r="2.5"/><circle cx="673.5" cy="96.8" r="2.5"/><circle cx="672.5" cy="104.2" r="2.5"/><circle cx="675.0" cy="104.2" r="2.5"/><circle cx="674.0" cy="107.2" r="2.5"/><circle cx="656.7" cy="111.8" r="2.5"/><circle cx="658.0" cy="113.2" r="2.5"/><circle cx="659.2" cy="114.3" r="2.5"/><circle cx="665.5" cy="114.8" r="2.5"/><circle cx="664.5" cy="116.2" r="2.5"/><circle cx="669.8" cy="111.8" r="2.5"/><circle cx="670.2" cy="113.2" r="2.5"/><circle cx="668.7" cy="118.2" r="2.5"/><circle cx="674.7" cy="118.5" r="2.5"/><circle cx="612.0" cy="123.0" r="2.5"/><circle cx="631.5" cy="122.2" r="2.5"/><circle cx="638.2" cy="123.3" r="2.5"/><circle cx="620.7" cy="125.2" r="2.5"/><circle cx="620.0" cy="127.8" r="2.5"/><circle cx="629.5" cy="126.8" r="2.5"/><circle cx="628.5" cy="129.3" r="2.5"/><circle cx="630.5" cy="129.3" r="2.5"/><circle cx="626.7" cy="130.8" r="2.5"/><circle cx="635.5" cy="126.3" r="2.5"/><circle cx="639.5" cy="129.3" r="2.5"/><circle cx="646.5" cy="127.8" r="2.5"/><circle cx="654.5" cy="126.3" r="2.5"/><circle cx="653.5" cy="128.2" r="2.5"/><circle cx="653.2" cy="132.3" r="2.5"/><circle cx="652.0" cy="135.3" r="2.5"/><circle cx="666.8" cy="127.8" r="2.5"/><circle cx="670.8" cy="127.8" r="2.5"/><circle cx="665.2" cy="135.3" r="2.5"/><circle cx="608.2" cy="130.8" r="2.5"/><circle cx="610.0" cy="139.5" r="2.5"/><circle cx="607.5" cy="142.8" r="2.5"/><circle cx="609.3" cy="144.8" r="2.5"/><circle cx="608.7" cy="147.3" r="2.5"/><circle cx="612.3" cy="142.8" r="2.5"/><circle cx="615.0" cy="145.8" r="2.5"/><circle cx="618.3" cy="139.8" r="2.5"/><circle cx="622.2" cy="138.3" r="2.5"/><circle cx="623.7" cy="139.8" r="2.5"/><circle cx="627.5" cy="138.3" r="2.5"/><circle cx="642.0" cy="138.3" r="2.5"/><circle cx="647.7" cy="138.3" r="2.5"/><circle cx="650.2" cy="142.8" r="2.5"/><circle cx="662.7" cy="142.8" r="2.5"/><circle cx="633.8" cy="145.8" r="2.5"/><circle cx="630.8" cy="153.3" r="2.5"/><circle cx="719.5" cy="121.8" r="2.5"/><circle cx="709.2" cy="126.3" r="2.5"/><circle cx="729.0" cy="123.3" r="2.5"/><circle cx="731.2" cy="125.2" r="2.5"/><circle cx="718.0" cy="130.8" r="2.5"/><circle cx="729.3" cy="134.2" r="2.5"/><circle cx="734.2" cy="136.8" r="2.5"/><circle cx="691.5" cy="139.8" r="2.5"/><circle cx="688.5" cy="142.8" r="2.5"/><circle cx="703.5" cy="139.8" r="2.5"/><circle cx="704.5" cy="142.8" r="2.5"/><circle cx="701.0" cy="144.3" r="2.5"/><circle cx="714.8" cy="139.8" r="2.5"/><circle cx="713.5" cy="141.3" r="2.5"/><circle cx="711.5" cy="143.2" r="2.5"/><circle cx="709.8" cy="145.8" r="2.5"/><circle cx="705.5" cy="145.8" r="2.5"/><circle cx="706.2" cy="148.5" r="2.5"/><circle cx="727.5" cy="141.3" r="2.5"/><circle cx="726.5" cy="144.3" r="2.5"/><circle cx="730.5" cy="145.8" r="2.5"/><circle cx="734.2" cy="148.5" r="2.5"/><circle cx="719.2" cy="147.3" r="2.5"/><circle cx="718.5" cy="150.3" r="2.5"/><circle cx="722.2" cy="150.3" r="2.5"/><circle cx="725.2" cy="151.8" r="2.5"/><circle cx="732.0" cy="153.3" r="2.5"/><circle cx="677.7" cy="147.3" r="2.5"/><circle cx="689.7" cy="150.3" r="2.5"/><circle cx="710.5" cy="153.0" r="2.5"/><circle cx="701.5" cy="154.8" r="2.5"/><circle cx="696.0" cy="154.8" r="2.5"/><circle cx="693.8" cy="156.0" r="2.5"/><circle cx="691.5" cy="156.8" r="2.5"/><circle cx="685.5" cy="156.0" r="2.5"/><circle cx="689.2" cy="160.5" r="2.5"/><circle cx="693.5" cy="160.8" r="2.5"/><circle cx="680.5" cy="160.5" r="2.5"/><circle cx="681.0" cy="162.3" r="2.5"/><circle cx="699.0" cy="162.0" r="2.5"/><circle cx="704.2" cy="157.5" r="2.5"/><circle cx="707.7" cy="159.3" r="2.5"/><circle cx="712.2" cy="157.5" r="2.5"/><circle cx="715.5" cy="157.5" r="2.5"/><circle cx="717.3" cy="155.2" r="2.5"/><circle cx="721.5" cy="156.0" r="2.5"/><circle cx="723.8" cy="156.8" r="2.5"/><circle cx="728.0" cy="162.0" r="2.5"/><circle cx="711.0" cy="162.0" r="2.5"/><circle cx="708.8" cy="163.8" r="2.5"/><circle cx="716.0" cy="163.5" r="2.5"/><circle cx="706.5" cy="166.8" r="2.5"/><circle cx="735.0" cy="165.0" r="2.5"/><circle cx="679.0" cy="168.0" r="2.5"/><circle cx="684.0" cy="168.0" r="2.5"/><circle cx="681.8" cy="171.3" r="2.5"/><circle cx="690.5" cy="169.5" r="2.5"/><circle cx="694.2" cy="169.5" r="2.5"/><circle cx="692.7" cy="171.0" r="2.5"/><circle cx="698.5" cy="174.0" r="2.5"/><circle cx="702.3" cy="175.8" r="2.5"/><circle cx="713.5" cy="172.5" r="2.5"/><circle cx="723.0" cy="173.7" r="2.5"/><circle cx="726.0" cy="175.5" r="2.5"/><circle cx="729.0" cy="175.5" r="2.5"/><circle cx="732.0" cy="175.5" r="2.5"/><circle cx="720.5" cy="177.0" r="2.5"/><circle cx="717.0" cy="178.5" r="2.5"/><circle cx="711.8" cy="179.2" r="2.5"/><circle cx="677.2" cy="175.8" r="2.5"/><circle cx="678.0" cy="177.8" r="2.5"/><circle cx="682.5" cy="178.2" r="2.5"/><circle cx="684.8" cy="178.2" r="2.5"/><circle cx="676.5" cy="181.3" r="2.5"/><circle cx="682.2" cy="182.8" r="2.5"/><circle cx="686.7" cy="182.8" r="2.5"/><circle cx="687.8" cy="184.3" r="2.5"/><circle cx="695.5" cy="182.8" r="2.5"/><circle cx="697.8" cy="181.3" r="2.5"/><circle cx="699.8" cy="182.8" r="2.5"/><circle cx="724.8" cy="181.3" r="2.5"/><circle cx="697.2" cy="187.3" r="2.5"/><circle cx="700.5" cy="188.8" r="2.5"/><circle cx="703.0" cy="188.8" r="2.5"/><circle cx="721.8" cy="187.3" r="2.5"/><circle cx="733.5" cy="188.8" r="2.5"/><circle cx="675.8" cy="193.3" r="2.5"/><circle cx="679.5" cy="194.8" r="2.5"/><circle cx="686.5" cy="200.8" r="2.5"/><circle cx="740.2" cy="166.5" r="2.5"/><circle cx="735.8" cy="165.8" r="2.5"/><circle cx="794.5" cy="169.5" r="2.5"/><circle cx="810.5" cy="174.0" r="2.5"/><circle cx="795.8" cy="177.0" r="2.5"/><circle cx="787.5" cy="178.5" r="2.5"/><circle cx="803.5" cy="183.0" r="2.5"/><circle cx="812.2" cy="188.7" r="2.5"/><circle cx="772.0" cy="185.7" r="2.5"/><circle cx="773.5" cy="186.0" r="2.5"/><circle cx="777.5" cy="185.7" r="2.5"/><circle cx="767.5" cy="192.0" r="2.5"/><circle cx="774.0" cy="192.0" r="2.5"/><circle cx="777.0" cy="192.0" r="2.5"/><circle cx="775.2" cy="194.7" r="2.5"/><circle cx="799.5" cy="191.7" r="2.5"/><circle cx="801.0" cy="193.2" r="2.5"/><circle cx="804.3" cy="193.2" r="2.5"/><circle cx="798.8" cy="196.2" r="2.5"/><circle cx="802.5" cy="196.2" r="2.5"/><circle cx="805.5" cy="197.7" r="2.5"/><circle cx="762.5" cy="199.2" r="2.5"/><circle cx="767.0" cy="200.7" r="2.5"/><circle cx="776.2" cy="199.2" r="2.5"/><circle cx="774.5" cy="202.2" r="2.5"/><circle cx="810.8" cy="200.7" r="2.5"/><circle cx="807.8" cy="202.2" r="2.5"/><circle cx="808.5" cy="205.2" r="2.5"/><circle cx="748.8" cy="205.2" r="2.5"/><circle cx="778.2" cy="205.2" r="2.5"/><circle cx="781.5" cy="205.2" r="2.5"/><circle cx="783.0" cy="206.2" r="2.5"/><circle cx="786.8" cy="206.2" r="2.5"/><circle cx="789.8" cy="204.0" r="2.5"/><circle cx="792.0" cy="203.7" r="2.5"/><circle cx="789.3" cy="206.7" r="2.5"/><circle cx="798.0" cy="205.2" r="2.5"/><circle cx="772.5" cy="208.2" r="2.5"/><circle cx="780.0" cy="209.7" r="2.5"/><circle cx="757.0" cy="209.7" r="2.5"/><circle cx="763.2" cy="209.7" r="2.5"/><circle cx="744.8" cy="210.8" r="2.5"/><circle cx="745.5" cy="214.2" r="2.5"/><circle cx="751.8" cy="212.7" r="2.5"/><circle cx="761.7" cy="212.7" r="2.5"/><circle cx="760.5" cy="214.2" r="2.5"/><circle cx="763.8" cy="215.7" r="2.5"/><circle cx="757.5" cy="216.8" r="2.5"/><circle cx="754.5" cy="217.5" r="2.5"/><circle cx="753.0" cy="218.2" r="2.5"/><circle cx="750.0" cy="216.8" r="2.5"/><circle cx="749.2" cy="219.8" r="2.5"/><circle cx="746.2" cy="221.7" r="2.5"/><circle cx="755.2" cy="221.7" r="2.5"/><circle cx="751.5" cy="224.2" r="2.5"/><circle cx="747.8" cy="224.7" r="2.5"/><circle cx="759.0" cy="224.7" r="2.5"/><circle cx="768.3" cy="222.8" r="2.5"/><circle cx="770.2" cy="222.8" r="2.5"/><circle cx="771.5" cy="218.2" r="2.5"/><circle cx="775.5" cy="218.2" r="2.5"/><circle cx="779.5" cy="218.2" r="2.5"/><circle cx="782.2" cy="221.2" r="2.5"/><circle cx="785.2" cy="223.5" r="2.5"/><circle cx="788.2" cy="222.8" r="2.5"/><circle cx="780.8" cy="212.7" r="2.5"/><circle cx="783.8" cy="216.8" r="2.5"/><circle cx="790.5" cy="209.7" r="2.5"/><circle cx="792.0" cy="209.2" r="2.5"/><circle cx="789.3" cy="211.2" r="2.5"/><circle cx="797.0" cy="211.2" r="2.5"/><circle cx="800.0" cy="210.8" r="2.5"/><circle cx="800.7" cy="208.5" r="2.5"/><circle cx="804.0" cy="209.7" r="2.5"/><circle cx="806.5" cy="212.7" r="2.5"/><circle cx="793.5" cy="215.7" r="2.5"/><circle cx="795.8" cy="217.5" r="2.5"/><circle cx="794.5" cy="219.3" r="2.5"/><circle cx="793.2" cy="220.5" r="2.5"/><circle cx="802.0" cy="221.2" r="2.5"/><circle cx="809.0" cy="216.8" r="2.5"/><circle cx="809.5" cy="220.2" r="2.5"/><circle cx="805.5" cy="223.8" r="2.5"/><circle cx="807.8" cy="224.2" r="2.5"/><circle cx="823.5" cy="206.7" r="2.5"/><circle cx="846.3" cy="217.2" r="2.5"/><circle cx="868.0" cy="208.2" r="2.5"/><circle cx="862.8" cy="210.8" r="2.5"/><circle cx="861.0" cy="213.8" r="2.5"/><circle cx="860.2" cy="216.8" r="2.5"/><circle cx="866.7" cy="222.8" r="2.5"/><circle cx="833.2" cy="224.2" r="2.5"/><circle cx="845.2" cy="224.2" r="2.5"/><circle cx="821.7" cy="225.0" r="2.5"/><circle cx="828.0" cy="225.0" r="2.5"/><circle cx="760.5" cy="227.6" r="2.5"/><circle cx="811.5" cy="228.8" r="2.5"/><circle cx="765.8" cy="230.6" r="2.5"/><circle cx="758.0" cy="231.8" r="2.5"/><circle cx="769.8" cy="231.8" r="2.5"/><circle cx="770.5" cy="233.2" r="2.5"/><circle cx="787.0" cy="230.6" r="2.5"/><circle cx="755.5" cy="236.2" r="2.5"/><circle cx="759.3" cy="236.2" r="2.5"/><circle cx="761.2" cy="235.1" r="2.5"/><circle cx="766.2" cy="236.2" r="2.5"/><circle cx="791.2" cy="236.2" r="2.5"/><circle cx="746.7" cy="240.8" r="2.5"/><circle cx="744.3" cy="245.2" r="2.5"/><circle cx="778.5" cy="239.2" r="2.5"/><circle cx="782.5" cy="240.8" r="2.5"/><circle cx="764.2" cy="246.8" r="2.5"/><circle cx="785.2" cy="251.2" r="2.5"/><circle cx="765.0" cy="258.8" r="2.5"/><circle cx="817.5" cy="230.6" r="2.5"/><circle cx="818.2" cy="233.2" r="2.5"/><circle cx="815.0" cy="234.8" r="2.5"/><circle cx="816.8" cy="239.2" r="2.5"/><circle cx="820.5" cy="239.6" r="2.5"/><circle cx="822.0" cy="240.0" r="2.5"/><circle cx="840.5" cy="233.2" r="2.5"/><circle cx="850.2" cy="233.6" r="2.5"/><circle cx="848.5" cy="235.1" r="2.5"/><circle cx="843.8" cy="236.2" r="2.5"/><circle cx="845.0" cy="237.8" r="2.5"/><circle cx="831.0" cy="237.8" r="2.5"/><circle cx="834.0" cy="237.8" r="2.5"/><circle cx="838.5" cy="240.8" r="2.5"/><circle cx="836.5" cy="243.8" r="2.5"/><circle cx="827.0" cy="242.2" r="2.5"/><circle cx="829.0" cy="245.2" r="2.5"/><circle cx="824.5" cy="246.8" r="2.5"/><circle cx="832.5" cy="248.2" r="2.5"/><circle cx="849.3" cy="240.8" r="2.5"/><circle cx="846.0" cy="246.8" r="2.5"/><circle cx="842.7" cy="249.8" r="2.5"/><circle cx="853.0" cy="246.8" r="2.5"/><circle cx="855.0" cy="247.5" r="2.5"/><circle cx="856.5" cy="246.8" r="2.5"/><circle cx="858.0" cy="249.8" r="2.5"/><circle cx="861.5" cy="233.6" r="2.5"/><circle cx="864.5" cy="235.1" r="2.5"/><circle cx="859.5" cy="236.2" r="2.5"/><circle cx="869.2" cy="235.5" r="2.5"/><circle cx="865.5" cy="239.2" r="2.5"/><circle cx="866.0" cy="246.8" r="2.5"/><circle cx="869.2" cy="248.2" r="2.5"/><circle cx="867.3" cy="255.8" r="2.5"/><circle cx="868.5" cy="260.2" r="2.5"/><circle cx="863.2" cy="260.2" r="2.5"/><circle cx="862.2" cy="264.8" r="2.5"/><circle cx="849.8" cy="254.2" r="2.5"/><circle cx="835.8" cy="254.2" r="2.5"/><circle cx="824.0" cy="254.2" r="2.5"/><circle cx="841.0" cy="256.8" r="2.5"/><circle cx="839.0" cy="260.2" r="2.5"/><circle cx="843.0" cy="262.5" r="2.5"/><circle cx="840.0" cy="264.3" r="2.5"/><circle cx="835.5" cy="263.2" r="2.5"/><circle cx="825.5" cy="258.8" r="2.5"/><circle cx="825.8" cy="264.8" r="2.5"/><circle cx="816.0" cy="263.2" r="2.5"/><circle cx="814.5" cy="255.8" r="2.5"/><circle cx="813.0" cy="257.2" r="2.5"/><circle cx="813.8" cy="267.8" r="2.5"/><circle cx="812.5" cy="273.3" r="2.5"/><circle cx="820.0" cy="270.3" r="2.5"/><circle cx="819.5" cy="272.2" r="2.5"/><circle cx="828.3" cy="268.8" r="2.5"/><circle cx="826.8" cy="270.3" r="2.5"/><circle cx="829.5" cy="273.3" r="2.5"/><circle cx="834.8" cy="274.8" r="2.5"/><circle cx="837.0" cy="276.3" r="2.5"/><circle cx="831.5" cy="279.3" r="2.5"/><circle cx="837.8" cy="283.5" r="2.5"/><circle cx="852.5" cy="283.5" r="2.5"/><circle cx="847.5" cy="273.3" r="2.5"/><circle cx="851.0" cy="274.8" r="2.5"/><circle cx="854.2" cy="270.3" r="2.5"/><circle cx="859.0" cy="274.8" r="2.5"/><circle cx="851.7" cy="261.0" r="2.5"/><circle cx="853.5" cy="262.5" r="2.5"/><circle cx="855.8" cy="258.8" r="2.5"/><circle cx="858.0" cy="260.2" r="2.5"/><circle cx="822.8" cy="293.0" r="2.5"/><circle cx="832.8" cy="298.7" r="2.5"/><circle cx="856.0" cy="301.7" r="2.5"/><circle cx="874.8" cy="217.0" r="2.5"/><circle cx="876.0" cy="218.2" r="2.5"/><circle cx="871.5" cy="224.5" r="2.5"/><circle cx="872.5" cy="226.0" r="2.5"/><circle cx="880.5" cy="239.2" r="2.5"/><circle cx="872.5" cy="239.2" r="2.5"/><circle cx="874.0" cy="240.5" r="2.5"/><circle cx="878.0" cy="243.8" r="2.5"/><circle cx="878.5" cy="248.0" r="2.5"/><circle cx="877.0" cy="251.0" r="2.5"/><circle cx="879.5" cy="252.5" r="2.5"/><circle cx="873.7" cy="258.8" r="2.5"/><circle cx="875.5" cy="270.5" r="2.5"/><circle cx="743.5" cy="123.5" r="2.5"/><circle cx="736.2" cy="139.5" r="2.5"/><circle cx="741.7" cy="136.8" r="2.5"/><circle cx="742.5" cy="141.2" r="2.5"/><circle cx="739.5" cy="145.5" r="2.5"/><circle cx="741.2" cy="145.8" r="2.5"/><circle cx="738.5" cy="150.0" r="2.5"/><circle cx="737.5" cy="159.2" r="2.5"/><circle cx="740.5" cy="159.2" r="2.5"/><circle cx="743.2" cy="162.2" r="2.5"/><circle cx="737.5" cy="163.5" r="2.5"/><circle cx="64.5" cy="261.0" r="2.5"/><circle cx="68.5" cy="263.5" r="2.5"/><circle cx="72.0" cy="260.0" r="2.5"/><circle cx="73.5" cy="257.0" r="2.5"/><circle cx="100.0" cy="265.0" r="2.5"/><circle cx="100.5" cy="266.4" r="2.5"/><circle cx="105.0" cy="266.0" r="2.5"/><circle cx="105.5" cy="267.7" r="2.5"/><circle cx="126.0" cy="266.0" r="2.5"/><circle cx="135.5" cy="257.5" r="2.5"/><circle cx="77.1" cy="268.2" r="2.5"/><circle cx="70.8" cy="251.7" r="2.5"/><circle cx="90.3" cy="240.5" r="2.5"/><circle cx="107.2" cy="251.1" r="2.5"/><circle cx="120.4" cy="239.9" r="2.5"/><circle cx="125.4" cy="264.6" r="2.5"/><circle cx="132.9" cy="277.6" r="2.5"/><circle cx="156.8" cy="242.0" r="2.5"/><circle cx="166.2" cy="229.2" r="2.5"/><circle cx="180.0" cy="265.2" r="2.5"/><circle cx="175.6" cy="231.9" r="2.5"/><circle cx="188.2" cy="258.9" r="2.5"/><circle cx="190.7" cy="255.6" r="2.5"/><circle cx="202.6" cy="253.2" r="2.5"/><circle cx="201.3" cy="251.8" r="2.5"/><circle cx="208.9" cy="241.2" r="2.5"/><circle cx="221.4" cy="214.1" r="2.5"/><circle cx="240.2" cy="245.3" r="2.5"/><circle cx="244.0" cy="216.8" r="2.5"/><circle cx="271.0" cy="189.2" r="2.5"/><circle cx="287.3" cy="221.8" r="2.5"/><circle cx="301.1" cy="209.5" r="2.5"/><circle cx="297.3" cy="196.3" r="2.5"/><circle cx="311.1" cy="188.2" r="2.5"/><circle cx="324.9" cy="179.9" r="2.5"/><circle cx="335.0" cy="198.9" r="2.5"/><circle cx="350.0" cy="165.2" r="2.5"/><circle cx="351.9" cy="182.7" r="2.5"/><circle cx="371.4" cy="165.2" r="2.5"/><circle cx="367.0" cy="129.8" r="2.5"/><circle cx="365.1" cy="195.8" r="2.5"/><circle cx="363.8" cy="178.8" r="2.5"/><circle cx="381.4" cy="176.9" r="2.5"/><circle cx="392.1" cy="177.3" r="2.5"/><circle cx="393.9" cy="174.2" r="2.5"/><circle cx="404.0" cy="149.2" r="2.5"/><circle cx="417.2" cy="137.8" r="2.5"/><circle cx="422.2" cy="141.2" r="2.5"/><circle cx="424.7" cy="181.2" r="2.5"/><circle cx="426.6" cy="136.7" r="2.5"/><circle cx="431.6" cy="136.7" r="2.5"/><circle cx="446.0" cy="143.8" r="2.5"/><circle cx="451.0" cy="118.7" r="2.5"/><circle cx="481.8" cy="102.8" r="2.5"/><circle cx="500.0" cy="108.5" r="2.5"/><circle cx="503.1" cy="94.8" r="2.5"/><circle cx="506.2" cy="83.0" r="2.5"/><circle cx="523.8" cy="81.0" r="2.5"/><circle cx="532.6" cy="99.5" r="2.5"/><circle cx="542.0" cy="116.3" r="2.5"/><circle cx="557.1" cy="82.2" r="2.5"/><circle cx="562.7" cy="127.2" r="2.5"/><circle cx="584.0" cy="90.2" r="2.5"/><circle cx="616.0" cy="114.8" r="2.5"/><circle cx="617.9" cy="104.0" r="2.5"/><circle cx="632.4" cy="123.7" r="2.5"/><circle cx="624.8" cy="114.2" r="2.5"/><circle cx="626.1" cy="111.4" r="2.5"/><circle cx="644.3" cy="109.3" r="2.5"/><circle cx="645.5" cy="106.9" r="2.5"/><circle cx="643.0" cy="111.2" r="2.5"/><circle cx="668.1" cy="117.2" r="2.5"/><circle cx="666.2" cy="126.4" r="2.5"/><circle cx="669.4" cy="112.8" r="2.5"/><circle cx="683.2" cy="169.4" r="2.5"/><circle cx="692.0" cy="141.2" r="2.5"/><circle cx="690.1" cy="148.9" r="2.5"/><circle cx="695.1" cy="181.4" r="2.5"/><circle cx="700.1" cy="181.4" r="2.5"/><circle cx="732.7" cy="154.7" r="2.5"/><circle cx="723.3" cy="157.8" r="2.5"/><circle cx="739.0" cy="146.5" r="2.5"/><circle cx="750.9" cy="223.2" r="2.5"/><circle cx="747.2" cy="239.3" r="2.5"/><circle cx="753.4" cy="218.5" r="2.5"/><circle cx="758.5" cy="230.3" r="2.5"/><circle cx="756.6" cy="208.3" r="2.5"/><circle cx="769.1" cy="230.3" r="2.5"/><circle cx="786.1" cy="204.8" r="2.5"/><circle cx="803.0" cy="195.2" r="2.5"/><circle cx="797.4" cy="212.6" r="2.5"/><circle cx="821.2" cy="226.0" r="2.5"/><circle cx="815.6" cy="264.2" r="2.5"/><circle cx="818.7" cy="232.2" r="2.5"/><circle cx="841.9" cy="248.3" r="2.5"/><circle cx="839.4" cy="261.2" r="2.5"/><circle cx="846.9" cy="274.3" r="2.5"/><circle cx="857.0" cy="247.8" r="2.5"/><circle cx="870.1" cy="234.5" r="2.5"/><circle cx="873.3" cy="227.4" r="2.5"/><circle cx="870.8" cy="225.9" r="2.5"/><circle cx="863.9" cy="236.5" r="2.5"/><circle cx="878.9" cy="249.4" r="2.5"/><circle cx="876.4" cy="216.8" r="2.5"/>
</g>
<g fill="#0bb70b">
<circle cx="94.2" cy="215.5" r="1.65"/><circle cx="101.2" cy="226.0" r="1.65"/><circle cx="127.5" cy="226.0" r="1.65"/><circle cx="144.4" cy="218.5" r="1.65"/><circle cx="184.5" cy="212.5" r="1.65"/><circle cx="189.8" cy="216.7" r="1.65"/><circle cx="191.2" cy="220.0" r="1.65"/><circle cx="181.5" cy="224.5" r="1.65"/><circle cx="164.6" cy="227.5" r="1.65"/><circle cx="166.8" cy="230.2" r="1.65"/><circle cx="178.5" cy="228.7" r="1.65"/><circle cx="175.2" cy="230.5" r="1.65"/><circle cx="192.0" cy="227.5" r="1.65"/><circle cx="194.7" cy="229.8" r="1.65"/><circle cx="187.5" cy="232.0" r="1.65"/><circle cx="191.7" cy="232.0" r="1.65"/><circle cx="183.8" cy="233.2" r="1.65"/><circle cx="169.9" cy="233.2" r="1.65"/><circle cx="172.8" cy="233.5" r="1.65"/><circle cx="177.0" cy="233.2" r="1.65"/><circle cx="135.8" cy="232.0" r="1.65"/><circle cx="140.2" cy="234.7" r="1.65"/><circle cx="82.5" cy="234.7" r="1.65"/><circle cx="86.7" cy="236.5" r="1.65"/><circle cx="84.5" cy="239.5" r="1.65"/><circle cx="89.7" cy="239.5" r="1.65"/><circle cx="96.8" cy="234.7" r="1.65"/><circle cx="106.2" cy="234.7" r="1.65"/><circle cx="111.4" cy="237.7" r="1.65"/><circle cx="115.0" cy="239.2" r="1.65"/><circle cx="119.5" cy="233.2" r="1.65"/><circle cx="123.3" cy="236.5" r="1.65"/><circle cx="124.8" cy="236.5" r="1.65"/><circle cx="120.8" cy="240.7" r="1.65"/><circle cx="119.7" cy="241.3" r="1.65"/><circle cx="68.2" cy="240.7" r="1.65"/><circle cx="158.7" cy="236.5" r="1.65"/><circle cx="151.2" cy="239.5" r="1.65"/><circle cx="153.3" cy="239.8" r="1.65"/><circle cx="157.5" cy="241.0" r="1.65"/><circle cx="159.0" cy="243.2" r="1.65"/><circle cx="156.0" cy="241.8" r="1.65"/><circle cx="150.8" cy="242.2" r="1.65"/><circle cx="162.8" cy="239.8" r="1.65"/><circle cx="165.0" cy="239.8" r="1.65"/><circle cx="163.9" cy="241.0" r="1.65"/><circle cx="176.2" cy="239.8" r="1.65"/><circle cx="179.2" cy="239.8" r="1.65"/><circle cx="177.8" cy="241.0" r="1.65"/><circle cx="186.4" cy="239.5" r="1.65"/><circle cx="134.6" cy="242.2" r="1.65"/><circle cx="139.5" cy="244.0" r="1.65"/><circle cx="142.5" cy="245.2" r="1.65"/><circle cx="145.8" cy="245.2" r="1.65"/><circle cx="141.0" cy="246.7" r="1.65"/><circle cx="76.2" cy="246.7" r="1.65"/><circle cx="103.8" cy="245.2" r="1.65"/><circle cx="109.5" cy="245.2" r="1.65"/><circle cx="110.2" cy="247.3" r="1.65"/><circle cx="110.7" cy="248.5" r="1.65"/><circle cx="106.8" cy="249.7" r="1.65"/><circle cx="95.2" cy="248.5" r="1.65"/><circle cx="96.4" cy="249.7" r="1.65"/><circle cx="118.5" cy="249.7" r="1.65"/><circle cx="130.2" cy="248.2" r="1.65"/><circle cx="137.2" cy="251.2" r="1.65"/><circle cx="146.2" cy="249.7" r="1.65"/><circle cx="152.7" cy="251.2" r="1.65"/><circle cx="160.8" cy="248.5" r="1.65"/><circle cx="168.3" cy="245.2" r="1.65"/><circle cx="174.8" cy="248.5" r="1.65"/><circle cx="171.0" cy="251.2" r="1.65"/><circle cx="183.3" cy="248.2" r="1.65"/><circle cx="182.2" cy="249.7" r="1.65"/><circle cx="186.0" cy="251.2" r="1.65"/><circle cx="187.5" cy="251.5" r="1.65"/><circle cx="193.2" cy="248.5" r="1.65"/><circle cx="71.2" cy="252.7" r="1.65"/><circle cx="84.8" cy="252.7" r="1.65"/><circle cx="91.8" cy="254.2" r="1.65"/><circle cx="90.8" cy="257.2" r="1.65"/><circle cx="97.5" cy="254.2" r="1.65"/><circle cx="103.2" cy="254.2" r="1.65"/><circle cx="108.3" cy="253.8" r="1.65"/><circle cx="108.8" cy="256.8" r="1.65"/><circle cx="113.7" cy="252.7" r="1.65"/><circle cx="120.8" cy="255.7" r="1.65"/><circle cx="124.5" cy="252.7" r="1.65"/><circle cx="127.0" cy="257.2" r="1.65"/><circle cx="131.2" cy="257.2" r="1.65"/><circle cx="134.2" cy="257.2" r="1.65"/><circle cx="142.2" cy="253.8" r="1.65"/><circle cx="144.0" cy="252.7" r="1.65"/><circle cx="145.5" cy="255.2" r="1.65"/><circle cx="154.8" cy="255.7" r="1.65"/><circle cx="153.0" cy="254.5" r="1.65"/><circle cx="157.5" cy="254.2" r="1.65"/><circle cx="165.0" cy="254.2" r="1.65"/><circle cx="170.2" cy="253.8" r="1.65"/><circle cx="171.8" cy="252.7" r="1.65"/><circle cx="174.0" cy="254.2" r="1.65"/><circle cx="178.9" cy="254.2" r="1.65"/><circle cx="190.2" cy="254.2" r="1.65"/><circle cx="188.7" cy="257.5" r="1.65"/><circle cx="63.0" cy="258.7" r="1.65"/><circle cx="76.5" cy="255.7" r="1.65"/><circle cx="74.2" cy="257.8" r="1.65"/><circle cx="72.8" cy="259.3" r="1.65"/><circle cx="78.8" cy="258.7" r="1.65"/><circle cx="70.5" cy="261.7" r="1.65"/><circle cx="66.8" cy="262.8" r="1.65"/><circle cx="75.0" cy="260.5" r="1.65"/><circle cx="83.2" cy="262.8" r="1.65"/><circle cx="79.5" cy="264.7" r="1.65"/><circle cx="98.7" cy="261.7" r="1.65"/><circle cx="102.3" cy="260.2" r="1.65"/><circle cx="99.8" cy="263.5" r="1.65"/><circle cx="111.8" cy="258.7" r="1.65"/><circle cx="114.8" cy="257.2" r="1.65"/><circle cx="116.7" cy="257.2" r="1.65"/><circle cx="116.2" cy="262.8" r="1.65"/><circle cx="117.8" cy="263.5" r="1.65"/><circle cx="121.5" cy="261.7" r="1.65"/><circle cx="104.5" cy="264.7" r="1.65"/><circle cx="138.0" cy="260.2" r="1.65"/><circle cx="141.4" cy="261.7" r="1.65"/><circle cx="147.8" cy="260.2" r="1.65"/><circle cx="160.5" cy="260.2" r="1.65"/><circle cx="161.2" cy="260.5" r="1.65"/><circle cx="167.2" cy="262.8" r="1.65"/><circle cx="181.2" cy="262.8" r="1.65"/><circle cx="185.2" cy="261.7" r="1.65"/><circle cx="194.2" cy="260.2" r="1.65"/><circle cx="128.2" cy="264.2" r="1.65"/><circle cx="151.5" cy="264.2" r="1.65"/><circle cx="61.5" cy="267.7" r="1.65"/><circle cx="60.8" cy="268.8" r="1.65"/><circle cx="66.0" cy="270.7" r="1.65"/><circle cx="69.3" cy="270.7" r="1.65"/><circle cx="61.5" cy="273.2" r="1.65"/><circle cx="65.7" cy="276.2" r="1.65"/><circle cx="70.5" cy="275.2" r="1.65"/><circle cx="63.0" cy="279.2" r="1.65"/><circle cx="68.5" cy="280.8" r="1.65"/><circle cx="64.2" cy="285.2" r="1.65"/><circle cx="74.2" cy="283.8" r="1.65"/><circle cx="77.7" cy="269.2" r="1.65"/><circle cx="80.0" cy="273.2" r="1.65"/><circle cx="78.0" cy="276.2" r="1.65"/><circle cx="80.7" cy="279.2" r="1.65"/><circle cx="81.3" cy="285.2" r="1.65"/><circle cx="83.7" cy="268.8" r="1.65"/><circle cx="86.2" cy="267.2" r="1.65"/><circle cx="85.5" cy="283.8" r="1.65"/><circle cx="87.5" cy="274.8" r="1.65"/><circle cx="89.2" cy="275.2" r="1.65"/><circle cx="91.5" cy="268.8" r="1.65"/><circle cx="93.3" cy="268.8" r="1.65"/><circle cx="92.5" cy="276.2" r="1.65"/><circle cx="93.8" cy="280.8" r="1.65"/><circle cx="95.5" cy="287.1" r="1.65"/><circle cx="98.2" cy="273.2" r="1.65"/><circle cx="102.0" cy="274.8" r="1.65"/><circle cx="107.7" cy="276.2" r="1.65"/><circle cx="113.2" cy="277.8" r="1.65"/><circle cx="117.4" cy="280.8" r="1.65"/><circle cx="122.7" cy="280.8" r="1.65"/><circle cx="126.5" cy="271.8" r="1.65"/><circle cx="66.8" cy="300.2" r="1.65"/><circle cx="81.8" cy="295.8" r="1.65"/><circle cx="88.2" cy="300.2" r="1.65"/><circle cx="129.0" cy="292.8" r="1.65"/><circle cx="129.4" cy="294.2" r="1.65"/><circle cx="131.7" cy="273.2" r="1.65"/><circle cx="133.8" cy="273.2" r="1.65"/><circle cx="132.4" cy="276.2" r="1.65"/><circle cx="131.2" cy="278.2" r="1.65"/><circle cx="139.1" cy="270.7" r="1.65"/><circle cx="149.2" cy="273.2" r="1.65"/><circle cx="150.4" cy="273.2" r="1.65"/><circle cx="155.7" cy="271.8" r="1.65"/><circle cx="162.3" cy="268.8" r="1.65"/><circle cx="167.7" cy="271.8" r="1.65"/><circle cx="171.4" cy="276.2" r="1.65"/><circle cx="163.5" cy="277.8" r="1.65"/><circle cx="169.1" cy="279.2" r="1.65"/><circle cx="154.5" cy="282.2" r="1.65"/><circle cx="147.0" cy="283.8" r="1.65"/><circle cx="149.2" cy="285.2" r="1.65"/><circle cx="148.5" cy="286.8" r="1.65"/><circle cx="143.6" cy="289.8" r="1.65"/><circle cx="180.4" cy="266.2" r="1.65"/><circle cx="193.9" cy="270.7" r="1.65"/><circle cx="112.5" cy="266.2" r="1.65"/><circle cx="136.5" cy="265.0" r="1.65"/><circle cx="213.4" cy="180.0" r="1.65"/><circle cx="257.6" cy="171.0" r="1.65"/><circle cx="226.5" cy="189.0" r="1.65"/><circle cx="234.8" cy="189.0" r="1.65"/><circle cx="255.8" cy="189.0" r="1.65"/><circle cx="258.0" cy="189.0" r="1.65"/><circle cx="265.1" cy="187.5" r="1.65"/><circle cx="266.7" cy="189.0" r="1.65"/><circle cx="270.4" cy="190.2" r="1.65"/><circle cx="251.6" cy="194.7" r="1.65"/><circle cx="253.5" cy="194.7" r="1.65"/><circle cx="254.2" cy="199.2" r="1.65"/><circle cx="259.5" cy="198.0" r="1.65"/><circle cx="248.6" cy="202.2" r="1.65"/><circle cx="252.4" cy="202.2" r="1.65"/><circle cx="256.2" cy="203.7" r="1.65"/><circle cx="229.2" cy="203.7" r="1.65"/><circle cx="232.5" cy="206.7" r="1.65"/><circle cx="238.5" cy="207.8" r="1.65"/><circle cx="247.2" cy="207.8" r="1.65"/><circle cx="225.0" cy="209.2" r="1.65"/><circle cx="251.7" cy="209.2" r="1.65"/><circle cx="260.2" cy="205.5" r="1.65"/><circle cx="261.0" cy="207.8" r="1.65"/><circle cx="265.5" cy="206.7" r="1.65"/><circle cx="267.8" cy="194.7" r="1.65"/><circle cx="268.2" cy="196.2" r="1.65"/><circle cx="272.6" cy="203.7" r="1.65"/><circle cx="273.8" cy="206.7" r="1.65"/><circle cx="277.5" cy="197.7" r="1.65"/><circle cx="280.2" cy="202.2" r="1.65"/><circle cx="282.0" cy="194.7" r="1.65"/><circle cx="283.2" cy="196.2" r="1.65"/><circle cx="285.4" cy="191.7" r="1.65"/><circle cx="288.8" cy="189.0" r="1.65"/><circle cx="288.3" cy="200.7" r="1.65"/><circle cx="290.2" cy="200.7" r="1.65"/><circle cx="284.6" cy="206.7" r="1.65"/><circle cx="278.6" cy="209.2" r="1.65"/><circle cx="293.2" cy="159.0" r="1.65"/><circle cx="299.6" cy="163.8" r="1.65"/><circle cx="291.8" cy="171.0" r="1.65"/><circle cx="295.8" cy="171.0" r="1.65"/><circle cx="292.5" cy="176.7" r="1.65"/><circle cx="294.4" cy="178.2" r="1.65"/><circle cx="302.6" cy="184.5" r="1.65"/><circle cx="305.7" cy="193.5" r="1.65"/><circle cx="297.8" cy="197.7" r="1.65"/><circle cx="296.7" cy="199.5" r="1.65"/><circle cx="298.5" cy="201.0" r="1.65"/><circle cx="297.8" cy="203.2" r="1.65"/><circle cx="301.5" cy="201.0" r="1.65"/><circle cx="300.0" cy="203.2" r="1.65"/><circle cx="303.3" cy="199.5" r="1.65"/><circle cx="305.2" cy="199.5" r="1.65"/><circle cx="306.8" cy="201.8" r="1.65"/><circle cx="309.0" cy="202.2" r="1.65"/><circle cx="304.2" cy="205.2" r="1.65"/><circle cx="306.8" cy="206.7" r="1.65"/><circle cx="294.0" cy="206.7" r="1.65"/><circle cx="300.4" cy="208.5" r="1.65"/><circle cx="310.5" cy="187.2" r="1.65"/><circle cx="313.5" cy="190.2" r="1.65"/><circle cx="310.2" cy="196.2" r="1.65"/><circle cx="312.3" cy="206.7" r="1.65"/><circle cx="314.6" cy="207.8" r="1.65"/><circle cx="317.6" cy="168.0" r="1.65"/><circle cx="315.0" cy="178.5" r="1.65"/><circle cx="324.4" cy="178.5" r="1.65"/><circle cx="316.5" cy="184.5" r="1.65"/><circle cx="319.5" cy="185.7" r="1.65"/><circle cx="322.8" cy="187.2" r="1.65"/><circle cx="325.5" cy="188.7" r="1.65"/><circle cx="327.0" cy="185.7" r="1.65"/><circle cx="328.5" cy="190.2" r="1.65"/><circle cx="318.3" cy="194.7" r="1.65"/><circle cx="320.2" cy="199.2" r="1.65"/><circle cx="324.0" cy="197.7" r="1.65"/><circle cx="322.2" cy="203.7" r="1.65"/><circle cx="321.4" cy="207.8" r="1.65"/><circle cx="323.2" cy="209.2" r="1.65"/><circle cx="325.8" cy="157.5" r="1.65"/><circle cx="329.2" cy="195.0" r="1.65"/><circle cx="329.7" cy="197.7" r="1.65"/><circle cx="213.0" cy="212.7" r="1.65"/><circle cx="220.8" cy="211.5" r="1.65"/><circle cx="222.0" cy="212.7" r="1.65"/><circle cx="244.9" cy="212.7" r="1.65"/><circle cx="258.4" cy="213.8" r="1.65"/><circle cx="263.6" cy="212.2" r="1.65"/><circle cx="265.5" cy="213.3" r="1.65"/><circle cx="263.2" cy="217.5" r="1.65"/><circle cx="264.3" cy="219.8" r="1.65"/><circle cx="262.1" cy="217.2" r="1.65"/><circle cx="201.0" cy="220.2" r="1.65"/><circle cx="204.0" cy="220.2" r="1.65"/><circle cx="196.2" cy="221.7" r="1.65"/><circle cx="214.5" cy="218.2" r="1.65"/><circle cx="216.0" cy="221.2" r="1.65"/><circle cx="211.2" cy="223.2" r="1.65"/><circle cx="229.9" cy="218.2" r="1.65"/><circle cx="227.7" cy="221.2" r="1.65"/><circle cx="226.5" cy="222.8" r="1.65"/><circle cx="223.5" cy="224.2" r="1.65"/><circle cx="222.8" cy="224.7" r="1.65"/><circle cx="234.3" cy="221.2" r="1.65"/><circle cx="238.2" cy="222.8" r="1.65"/><circle cx="237.3" cy="224.2" r="1.65"/><circle cx="232.8" cy="224.7" r="1.65"/><circle cx="233.2" cy="226.2" r="1.65"/><circle cx="244.5" cy="218.2" r="1.65"/><circle cx="247.8" cy="218.2" r="1.65"/><circle cx="246.8" cy="224.7" r="1.65"/><circle cx="245.2" cy="226.2" r="1.65"/><circle cx="242.7" cy="227.7" r="1.65"/><circle cx="255.0" cy="219.8" r="1.65"/><circle cx="253.8" cy="223.2" r="1.65"/><circle cx="256.5" cy="224.7" r="1.65"/><circle cx="249.8" cy="228.8" r="1.65"/><circle cx="250.5" cy="230.2" r="1.65"/><circle cx="197.7" cy="225.8" r="1.65"/><circle cx="199.2" cy="227.2" r="1.65"/><circle cx="195.8" cy="230.2" r="1.65"/><circle cx="205.8" cy="228.8" r="1.65"/><circle cx="211.5" cy="230.2" r="1.65"/><circle cx="209.6" cy="232.2" r="1.65"/><circle cx="209.7" cy="233.7" r="1.65"/><circle cx="217.1" cy="233.2" r="1.65"/><circle cx="218.2" cy="226.2" r="1.65"/><circle cx="215.2" cy="227.7" r="1.65"/><circle cx="224.2" cy="230.2" r="1.65"/><circle cx="228.3" cy="228.8" r="1.65"/><circle cx="231.0" cy="233.2" r="1.65"/><circle cx="230.6" cy="234.8" r="1.65"/><circle cx="261.8" cy="232.2" r="1.65"/><circle cx="198.3" cy="236.7" r="1.65"/><circle cx="204.8" cy="237.8" r="1.65"/><circle cx="206.2" cy="238.5" r="1.65"/><circle cx="207.8" cy="239.7" r="1.65"/><circle cx="208.5" cy="242.2" r="1.65"/><circle cx="214.2" cy="239.2" r="1.65"/><circle cx="220.8" cy="240.8" r="1.65"/><circle cx="222.0" cy="241.2" r="1.65"/><circle cx="225.4" cy="239.2" r="1.65"/><circle cx="231.8" cy="239.2" r="1.65"/><circle cx="235.2" cy="236.7" r="1.65"/><circle cx="236.2" cy="239.7" r="1.65"/><circle cx="236.7" cy="241.2" r="1.65"/><circle cx="239.7" cy="236.7" r="1.65"/><circle cx="243.0" cy="236.7" r="1.65"/><circle cx="239.2" cy="242.2" r="1.65"/><circle cx="243.3" cy="243.8" r="1.65"/><circle cx="246.0" cy="245.2" r="1.65"/><circle cx="249.3" cy="245.2" r="1.65"/><circle cx="240.8" cy="246.8" r="1.65"/><circle cx="241.8" cy="246.0" r="1.65"/><circle cx="196.5" cy="243.8" r="1.65"/><circle cx="200.2" cy="246.8" r="1.65"/><circle cx="219.3" cy="245.2" r="1.65"/><circle cx="219.8" cy="251.2" r="1.65"/><circle cx="197.2" cy="252.8" r="1.65"/><circle cx="201.8" cy="252.8" r="1.65"/><circle cx="203.2" cy="254.2" r="1.65"/><circle cx="207.3" cy="255.8" r="1.65"/><circle cx="210.4" cy="257.2" r="1.65"/><circle cx="212.6" cy="260.2" r="1.65"/><circle cx="206.6" cy="260.2" r="1.65"/><circle cx="199.2" cy="258.8" r="1.65"/><circle cx="195.0" cy="260.2" r="1.65"/><circle cx="217.8" cy="262.8" r="1.65"/><circle cx="268.9" cy="211.2" r="1.65"/><circle cx="271.5" cy="215.7" r="1.65"/><circle cx="274.9" cy="216.8" r="1.65"/><circle cx="275.6" cy="219.8" r="1.65"/><circle cx="277.1" cy="220.2" r="1.65"/><circle cx="281.2" cy="215.7" r="1.65"/><circle cx="268.8" cy="223.2" r="1.65"/><circle cx="278.2" cy="225.8" r="1.65"/><circle cx="280.1" cy="227.7" r="1.65"/><circle cx="282.4" cy="230.2" r="1.65"/><circle cx="273.0" cy="230.2" r="1.65"/><circle cx="270.0" cy="233.7" r="1.65"/><circle cx="276.4" cy="233.2" r="1.65"/><circle cx="271.8" cy="237.8" r="1.65"/><circle cx="274.2" cy="239.2" r="1.65"/><circle cx="279.4" cy="237.8" r="1.65"/><circle cx="285.0" cy="236.7" r="1.65"/><circle cx="283.8" cy="239.2" r="1.65"/><circle cx="286.5" cy="246.8" r="1.65"/><circle cx="286.8" cy="223.2" r="1.65"/><circle cx="288.0" cy="218.7" r="1.65"/><circle cx="290.2" cy="218.2" r="1.65"/><circle cx="291.3" cy="214.2" r="1.65"/><circle cx="295.2" cy="211.5" r="1.65"/><circle cx="305.2" cy="211.5" r="1.65"/><circle cx="308.2" cy="215.7" r="1.65"/><circle cx="309.4" cy="215.7" r="1.65"/><circle cx="307.5" cy="220.2" r="1.65"/><circle cx="311.7" cy="219.8" r="1.65"/><circle cx="312.3" cy="221.7" r="1.65"/><circle cx="314.2" cy="223.2" r="1.65"/><circle cx="315.8" cy="213.8" r="1.65"/><circle cx="317.2" cy="216.8" r="1.65"/><circle cx="320.7" cy="221.2" r="1.65"/><circle cx="326.5" cy="216.8" r="1.65"/><circle cx="327.8" cy="224.6" r="1.65"/><circle cx="318.8" cy="234.8" r="1.65"/><circle cx="347.2" cy="138.2" r="1.65"/><circle cx="366.4" cy="130.8" r="1.65"/><circle cx="371.7" cy="138.2" r="1.65"/><circle cx="374.2" cy="141.2" r="1.65"/><circle cx="389.7" cy="138.2" r="1.65"/><circle cx="390.8" cy="139.8" r="1.65"/><circle cx="398.2" cy="139.8" r="1.65"/><circle cx="399.8" cy="136.8" r="1.65"/><circle cx="402.4" cy="130.8" r="1.65"/><circle cx="405.4" cy="121.8" r="1.65"/><circle cx="404.6" cy="141.2" r="1.65"/><circle cx="406.5" cy="141.7" r="1.65"/><circle cx="409.9" cy="116.2" r="1.65"/><circle cx="413.6" cy="108.7" r="1.65"/><circle cx="412.9" cy="111.7" r="1.65"/><circle cx="416.2" cy="116.2" r="1.65"/><circle cx="418.5" cy="120.7" r="1.65"/><circle cx="411.4" cy="130.8" r="1.65"/><circle cx="414.3" cy="128.2" r="1.65"/><circle cx="416.6" cy="126.7" r="1.65"/><circle cx="415.2" cy="130.8" r="1.65"/><circle cx="420.0" cy="129.7" r="1.65"/><circle cx="421.1" cy="134.2" r="1.65"/><circle cx="417.8" cy="136.8" r="1.65"/><circle cx="419.6" cy="136.8" r="1.65"/><circle cx="412.5" cy="138.2" r="1.65"/><circle cx="423.0" cy="139.8" r="1.65"/><circle cx="418.1" cy="142.8" r="1.65"/><circle cx="411.8" cy="143.5" r="1.65"/><circle cx="429.0" cy="107.2" r="1.65"/><circle cx="429.8" cy="108.2" r="1.65"/><circle cx="432.0" cy="108.7" r="1.65"/><circle cx="425.6" cy="126.2" r="1.65"/><circle cx="427.5" cy="123.7" r="1.65"/><circle cx="428.2" cy="130.8" r="1.65"/><circle cx="427.1" cy="135.2" r="1.65"/><circle cx="431.2" cy="135.2" r="1.65"/><circle cx="433.1" cy="130.8" r="1.65"/><circle cx="432.8" cy="116.2" r="1.65"/><circle cx="434.6" cy="113.2" r="1.65"/><circle cx="436.9" cy="117.2" r="1.65"/><circle cx="433.8" cy="120.7" r="1.65"/><circle cx="438.0" cy="114.2" r="1.65"/><circle cx="440.2" cy="114.2" r="1.65"/><circle cx="441.8" cy="115.8" r="1.65"/><circle cx="443.6" cy="114.2" r="1.65"/><circle cx="442.2" cy="117.2" r="1.65"/><circle cx="438.8" cy="123.7" r="1.65"/><circle cx="442.9" cy="123.7" r="1.65"/><circle cx="440.6" cy="107.2" r="1.65"/><circle cx="444.4" cy="129.7" r="1.65"/><circle cx="437.2" cy="135.2" r="1.65"/><circle cx="438.0" cy="138.2" r="1.65"/><circle cx="435.0" cy="139.8" r="1.65"/><circle cx="435.0" cy="142.8" r="1.65"/><circle cx="430.5" cy="142.8" r="1.65"/><circle cx="444.8" cy="141.2" r="1.65"/><circle cx="445.5" cy="142.8" r="1.65"/><circle cx="449.6" cy="92.2" r="1.65"/><circle cx="452.6" cy="95.2" r="1.65"/><circle cx="462.0" cy="93.7" r="1.65"/><circle cx="447.8" cy="116.2" r="1.65"/><circle cx="451.5" cy="117.2" r="1.65"/><circle cx="453.8" cy="114.2" r="1.65"/><circle cx="456.3" cy="111.7" r="1.65"/><circle cx="457.5" cy="108.7" r="1.65"/><circle cx="460.5" cy="108.7" r="1.65"/><circle cx="464.2" cy="105.7" r="1.65"/><circle cx="458.7" cy="115.8" r="1.65"/><circle cx="459.8" cy="117.2" r="1.65"/><circle cx="463.9" cy="120.7" r="1.65"/><circle cx="457.9" cy="123.7" r="1.65"/><circle cx="455.2" cy="128.2" r="1.65"/><circle cx="452.2" cy="132.7" r="1.65"/><circle cx="454.5" cy="132.7" r="1.65"/><circle cx="448.1" cy="133.8" r="1.65"/><circle cx="453.0" cy="135.2" r="1.65"/><circle cx="456.8" cy="136.8" r="1.65"/><circle cx="448.9" cy="138.2" r="1.65"/><circle cx="461.7" cy="129.2" r="1.65"/><circle cx="463.2" cy="129.2" r="1.65"/><circle cx="465.0" cy="133.8" r="1.65"/><circle cx="462.4" cy="142.8" r="1.65"/><circle cx="464.2" cy="109.8" r="1.65"/><circle cx="354.0" cy="150.2" r="1.65"/><circle cx="360.8" cy="146.2" r="1.65"/><circle cx="360.4" cy="148.8" r="1.65"/><circle cx="367.8" cy="146.2" r="1.65"/><circle cx="368.6" cy="151.8" r="1.65"/><circle cx="373.5" cy="147.2" r="1.65"/><circle cx="374.6" cy="151.8" r="1.65"/><circle cx="393.0" cy="147.2" r="1.65"/><circle cx="386.7" cy="150.7" r="1.65"/><circle cx="389.2" cy="150.7" r="1.65"/><circle cx="388.2" cy="153.2" r="1.65"/><circle cx="387.4" cy="157.8" r="1.65"/><circle cx="399.3" cy="151.8" r="1.65"/><circle cx="401.2" cy="153.2" r="1.65"/><circle cx="403.5" cy="150.2" r="1.65"/><circle cx="403.1" cy="159.2" r="1.65"/><circle cx="405.0" cy="156.2" r="1.65"/><circle cx="338.6" cy="159.2" r="1.65"/><circle cx="339.3" cy="160.8" r="1.65"/><circle cx="340.9" cy="157.8" r="1.65"/><circle cx="346.1" cy="159.2" r="1.65"/><circle cx="350.6" cy="163.8" r="1.65"/><circle cx="377.2" cy="159.2" r="1.65"/><circle cx="366.4" cy="163.8" r="1.65"/><circle cx="370.5" cy="163.8" r="1.65"/><circle cx="369.8" cy="165.2" r="1.65"/><circle cx="373.1" cy="166.8" r="1.65"/><circle cx="384.8" cy="165.2" r="1.65"/><circle cx="379.5" cy="166.8" r="1.65"/><circle cx="380.2" cy="169.0" r="1.65"/><circle cx="382.5" cy="170.5" r="1.65"/><circle cx="383.2" cy="172.0" r="1.65"/><circle cx="396.0" cy="163.8" r="1.65"/><circle cx="397.1" cy="162.7" r="1.65"/><circle cx="398.7" cy="162.2" r="1.65"/><circle cx="336.0" cy="168.2" r="1.65"/><circle cx="344.6" cy="171.2" r="1.65"/><circle cx="348.4" cy="169.8" r="1.65"/><circle cx="357.8" cy="172.8" r="1.65"/><circle cx="361.5" cy="173.5" r="1.65"/><circle cx="370.5" cy="172.8" r="1.65"/><circle cx="375.8" cy="172.8" r="1.65"/><circle cx="372.4" cy="175.8" r="1.65"/><circle cx="400.5" cy="168.2" r="1.65"/><circle cx="394.5" cy="172.8" r="1.65"/><circle cx="331.8" cy="176.5" r="1.65"/><circle cx="334.2" cy="175.8" r="1.65"/><circle cx="336.4" cy="175.8" r="1.65"/><circle cx="332.7" cy="179.8" r="1.65"/><circle cx="336.8" cy="181.3" r="1.65"/><circle cx="342.3" cy="175.8" r="1.65"/><circle cx="342.8" cy="178.0" r="1.65"/><circle cx="345.0" cy="179.8" r="1.65"/><circle cx="341.7" cy="181.3" r="1.65"/><circle cx="343.9" cy="184.3" r="1.65"/><circle cx="346.5" cy="184.3" r="1.65"/><circle cx="354.8" cy="176.8" r="1.65"/><circle cx="359.6" cy="176.8" r="1.65"/><circle cx="352.5" cy="181.3" r="1.65"/><circle cx="356.7" cy="181.3" r="1.65"/><circle cx="364.2" cy="180.2" r="1.65"/><circle cx="369.3" cy="180.2" r="1.65"/><circle cx="383.6" cy="175.8" r="1.65"/><circle cx="380.7" cy="178.3" r="1.65"/><circle cx="381.8" cy="182.5" r="1.65"/><circle cx="382.5" cy="183.7" r="1.65"/><circle cx="392.7" cy="178.3" r="1.65"/><circle cx="394.8" cy="176.8" r="1.65"/><circle cx="397.1" cy="178.3" r="1.65"/><circle cx="401.2" cy="180.2" r="1.65"/><circle cx="330.8" cy="190.0" r="1.65"/><circle cx="334.2" cy="188.8" r="1.65"/><circle cx="340.2" cy="191.8" r="1.65"/><circle cx="357.0" cy="185.8" r="1.65"/><circle cx="358.2" cy="188.8" r="1.65"/><circle cx="363.3" cy="188.8" r="1.65"/><circle cx="384.3" cy="187.3" r="1.65"/><circle cx="391.5" cy="187.3" r="1.65"/><circle cx="388.8" cy="190.3" r="1.65"/><circle cx="330.8" cy="195.2" r="1.65"/><circle cx="335.6" cy="197.5" r="1.65"/><circle cx="337.8" cy="196.8" r="1.65"/><circle cx="348.0" cy="196.8" r="1.65"/><circle cx="349.5" cy="197.5" r="1.65"/><circle cx="353.2" cy="197.8" r="1.65"/><circle cx="351.4" cy="200.8" r="1.65"/><circle cx="339.8" cy="202.0" r="1.65"/><circle cx="359.2" cy="202.0" r="1.65"/><circle cx="365.6" cy="194.8" r="1.65"/><circle cx="376.5" cy="193.3" r="1.65"/><circle cx="375.8" cy="196.3" r="1.65"/><circle cx="378.3" cy="196.8" r="1.65"/><circle cx="378.0" cy="199.3" r="1.65"/><circle cx="385.5" cy="194.8" r="1.65"/><circle cx="386.2" cy="204.2" r="1.65"/><circle cx="407.6" cy="147.2" r="1.65"/><circle cx="410.6" cy="159.2" r="1.65"/><circle cx="408.8" cy="163.8" r="1.65"/><circle cx="407.6" cy="168.2" r="1.65"/><circle cx="409.5" cy="172.8" r="1.65"/><circle cx="421.8" cy="152.8" r="1.65"/><circle cx="420.4" cy="156.2" r="1.65"/><circle cx="426.0" cy="157.8" r="1.65"/><circle cx="423.8" cy="160.3" r="1.65"/><circle cx="424.2" cy="180.2" r="1.65"/><circle cx="441.4" cy="146.2" r="1.65"/><circle cx="446.6" cy="151.8" r="1.65"/><circle cx="450.4" cy="156.2" r="1.65"/><circle cx="447.0" cy="171.2" r="1.65"/><circle cx="459.8" cy="148.8" r="1.65"/><circle cx="362.2" cy="208.2" r="1.65"/><circle cx="351.0" cy="209.7" r="1.65"/><circle cx="333.3" cy="211.2" r="1.65"/><circle cx="355.9" cy="215.2" r="1.65"/><circle cx="355.2" cy="218.7" r="1.65"/><circle cx="525.8" cy="58.0" r="1.65"/><circle cx="487.5" cy="70.0" r="1.65"/><circle cx="516.5" cy="70.0" r="1.65"/><circle cx="526.5" cy="68.8" r="1.65"/><circle cx="513.5" cy="76.0" r="1.65"/><circle cx="521.0" cy="76.0" r="1.65"/><circle cx="527.2" cy="75.7" r="1.65"/><circle cx="536.5" cy="74.5" r="1.65"/><circle cx="525.0" cy="78.7" r="1.65"/><circle cx="524.2" cy="82.0" r="1.65"/><circle cx="528.5" cy="80.5" r="1.65"/><circle cx="535.5" cy="82.0" r="1.65"/><circle cx="499.2" cy="82.0" r="1.65"/><circle cx="501.0" cy="82.0" r="1.65"/><circle cx="505.8" cy="82.0" r="1.65"/><circle cx="527.7" cy="84.7" r="1.65"/><circle cx="517.8" cy="87.7" r="1.65"/><circle cx="508.5" cy="89.5" r="1.65"/><circle cx="529.5" cy="89.5" r="1.65"/><circle cx="530.2" cy="92.2" r="1.65"/><circle cx="467.2" cy="86.5" r="1.65"/><circle cx="467.7" cy="88.0" r="1.65"/><circle cx="477.0" cy="92.2" r="1.65"/><circle cx="483.4" cy="90.7" r="1.65"/><circle cx="486.4" cy="94.0" r="1.65"/><circle cx="507.3" cy="93.7" r="1.65"/><circle cx="513.0" cy="93.7" r="1.65"/><circle cx="519.3" cy="93.7" r="1.65"/><circle cx="516.8" cy="96.2" r="1.65"/><circle cx="518.5" cy="96.7" r="1.65"/><circle cx="523.0" cy="97.0" r="1.65"/><circle cx="514.2" cy="97.0" r="1.65"/><circle cx="514.8" cy="99.7" r="1.65"/><circle cx="501.8" cy="96.2" r="1.65"/><circle cx="503.7" cy="96.2" r="1.65"/><circle cx="502.5" cy="99.7" r="1.65"/><circle cx="507.8" cy="98.5" r="1.65"/><circle cx="509.2" cy="99.7" r="1.65"/><circle cx="490.8" cy="98.5" r="1.65"/><circle cx="496.2" cy="99.7" r="1.65"/><circle cx="496.9" cy="101.5" r="1.65"/><circle cx="493.5" cy="102.7" r="1.65"/><circle cx="484.5" cy="99.7" r="1.65"/><circle cx="480.8" cy="99.7" r="1.65"/><circle cx="481.2" cy="103.8" r="1.65"/><circle cx="475.8" cy="101.2" r="1.65"/><circle cx="470.2" cy="102.7" r="1.65"/><circle cx="470.7" cy="104.5" r="1.65"/><circle cx="466.5" cy="104.2" r="1.65"/><circle cx="465.8" cy="105.2" r="1.65"/><circle cx="473.6" cy="107.2" r="1.65"/><circle cx="472.2" cy="110.2" r="1.65"/><circle cx="479.6" cy="108.2" r="1.65"/><circle cx="478.8" cy="111.2" r="1.65"/><circle cx="475.2" cy="112.8" r="1.65"/><circle cx="468.3" cy="112.8" r="1.65"/><circle cx="485.2" cy="108.2" r="1.65"/><circle cx="488.2" cy="108.7" r="1.65"/><circle cx="491.7" cy="111.7" r="1.65"/><circle cx="492.4" cy="113.5" r="1.65"/><circle cx="497.2" cy="108.2" r="1.65"/><circle cx="500.6" cy="107.5" r="1.65"/><circle cx="498.8" cy="111.2" r="1.65"/><circle cx="502.2" cy="103.0" r="1.65"/><circle cx="504.8" cy="103.8" r="1.65"/><circle cx="505.1" cy="108.2" r="1.65"/><circle cx="511.5" cy="102.7" r="1.65"/><circle cx="510.4" cy="106.0" r="1.65"/><circle cx="520.5" cy="102.7" r="1.65"/><circle cx="515.2" cy="111.7" r="1.65"/><circle cx="522.3" cy="111.7" r="1.65"/><circle cx="525.3" cy="105.7" r="1.65"/><circle cx="529.2" cy="104.2" r="1.65"/><circle cx="534.0" cy="105.7" r="1.65"/><circle cx="538.5" cy="104.2" r="1.65"/><circle cx="540.8" cy="103.8" r="1.65"/><circle cx="534.0" cy="111.7" r="1.65"/><circle cx="536.0" cy="111.7" r="1.65"/><circle cx="532.0" cy="95.2" r="1.65"/><circle cx="534.5" cy="96.2" r="1.65"/><circle cx="531.0" cy="98.5" r="1.65"/><circle cx="533.2" cy="98.5" r="1.65"/><circle cx="538.0" cy="98.5" r="1.65"/><circle cx="538.8" cy="99.7" r="1.65"/><circle cx="540.5" cy="91.0" r="1.65"/><circle cx="542.7" cy="87.7" r="1.65"/><circle cx="542.7" cy="90.7" r="1.65"/><circle cx="509.2" cy="113.8" r="1.65"/><circle cx="513.0" cy="114.2" r="1.65"/><circle cx="518.7" cy="114.2" r="1.65"/><circle cx="550.5" cy="74.5" r="1.65"/><circle cx="554.7" cy="70.0" r="1.65"/><circle cx="563.5" cy="73.0" r="1.65"/><circle cx="569.5" cy="67.0" r="1.65"/><circle cx="571.8" cy="67.0" r="1.65"/><circle cx="576.8" cy="62.5" r="1.65"/><circle cx="595.5" cy="62.5" r="1.65"/><circle cx="596.5" cy="70.0" r="1.65"/><circle cx="593.2" cy="74.5" r="1.65"/><circle cx="598.2" cy="75.7" r="1.65"/><circle cx="594.8" cy="78.7" r="1.65"/><circle cx="585.8" cy="78.7" r="1.65"/><circle cx="578.5" cy="80.5" r="1.65"/><circle cx="582.0" cy="80.5" r="1.65"/><circle cx="585.0" cy="83.2" r="1.65"/><circle cx="588.8" cy="83.2" r="1.65"/><circle cx="574.5" cy="83.2" r="1.65"/><circle cx="579.3" cy="84.7" r="1.65"/><circle cx="552.8" cy="82.0" r="1.65"/><circle cx="549.8" cy="84.7" r="1.65"/><circle cx="557.5" cy="83.2" r="1.65"/><circle cx="565.5" cy="83.2" r="1.65"/><circle cx="559.2" cy="87.7" r="1.65"/><circle cx="573.0" cy="87.7" r="1.65"/><circle cx="576.3" cy="86.5" r="1.65"/><circle cx="577.5" cy="88.3" r="1.65"/><circle cx="584.5" cy="89.2" r="1.65"/><circle cx="590.2" cy="86.5" r="1.65"/><circle cx="591.5" cy="88.3" r="1.65"/><circle cx="589.2" cy="91.0" r="1.65"/><circle cx="592.5" cy="91.0" r="1.65"/><circle cx="594.0" cy="91.0" r="1.65"/><circle cx="597.0" cy="91.0" r="1.65"/><circle cx="597.8" cy="87.7" r="1.65"/><circle cx="599.2" cy="83.5" r="1.65"/><circle cx="568.0" cy="90.7" r="1.65"/><circle cx="564.3" cy="92.2" r="1.65"/><circle cx="558.8" cy="93.7" r="1.65"/><circle cx="556.5" cy="95.2" r="1.65"/><circle cx="561.0" cy="96.7" r="1.65"/><circle cx="580.2" cy="95.2" r="1.65"/><circle cx="581.2" cy="95.2" r="1.65"/><circle cx="587.5" cy="94.0" r="1.65"/><circle cx="590.7" cy="95.2" r="1.65"/><circle cx="552.0" cy="97.0" r="1.65"/><circle cx="553.5" cy="98.5" r="1.65"/><circle cx="551.2" cy="99.7" r="1.65"/><circle cx="545.5" cy="101.2" r="1.65"/><circle cx="548.2" cy="101.2" r="1.65"/><circle cx="556.0" cy="102.7" r="1.65"/><circle cx="566.2" cy="101.2" r="1.65"/><circle cx="568.8" cy="101.2" r="1.65"/><circle cx="571.5" cy="98.5" r="1.65"/><circle cx="570.5" cy="104.2" r="1.65"/><circle cx="575.0" cy="104.2" r="1.65"/><circle cx="576.0" cy="107.2" r="1.65"/><circle cx="580.5" cy="104.2" r="1.65"/><circle cx="583.5" cy="104.2" r="1.65"/><circle cx="588.0" cy="101.2" r="1.65"/><circle cx="592.5" cy="104.2" r="1.65"/><circle cx="599.0" cy="103.8" r="1.65"/><circle cx="600.0" cy="98.5" r="1.65"/><circle cx="548.2" cy="105.7" r="1.65"/><circle cx="551.2" cy="107.2" r="1.65"/><circle cx="543.8" cy="108.7" r="1.65"/><circle cx="546.8" cy="108.7" r="1.65"/><circle cx="555.5" cy="108.7" r="1.65"/><circle cx="560.2" cy="107.2" r="1.65"/><circle cx="561.8" cy="108.7" r="1.65"/><circle cx="564.0" cy="112.0" r="1.65"/><circle cx="570.0" cy="110.2" r="1.65"/><circle cx="572.7" cy="111.7" r="1.65"/><circle cx="573.8" cy="113.5" r="1.65"/><circle cx="583.0" cy="112.8" r="1.65"/><circle cx="586.5" cy="110.2" r="1.65"/><circle cx="544.5" cy="110.5" r="1.65"/><circle cx="489.0" cy="116.5" r="1.65"/><circle cx="498.3" cy="115.0" r="1.65"/><circle cx="521.5" cy="116.2" r="1.65"/><circle cx="518.5" cy="120.7" r="1.65"/><circle cx="511.1" cy="126.2" r="1.65"/><circle cx="472.2" cy="121.8" r="1.65"/><circle cx="471.3" cy="123.2" r="1.65"/><circle cx="476.6" cy="125.2" r="1.65"/><circle cx="480.3" cy="125.2" r="1.65"/><circle cx="482.7" cy="124.8" r="1.65"/><circle cx="482.2" cy="121.8" r="1.65"/><circle cx="484.1" cy="120.7" r="1.65"/><circle cx="485.7" cy="120.7" r="1.65"/><circle cx="490.2" cy="121.8" r="1.65"/><circle cx="489.8" cy="125.2" r="1.65"/><circle cx="494.6" cy="120.7" r="1.65"/><circle cx="494.2" cy="123.2" r="1.65"/><circle cx="495.4" cy="126.2" r="1.65"/><circle cx="474.4" cy="129.6" r="1.65"/><circle cx="478.9" cy="129.6" r="1.65"/><circle cx="487.2" cy="132.6" r="1.65"/><circle cx="492.8" cy="133.8" r="1.65"/><circle cx="466.2" cy="133.8" r="1.65"/><circle cx="469.1" cy="133.8" r="1.65"/><circle cx="477.4" cy="148.8" r="1.65"/><circle cx="465.0" cy="120.7" r="1.65"/><circle cx="539.5" cy="115.0" r="1.65"/><circle cx="541.5" cy="117.7" r="1.65"/><circle cx="546.8" cy="117.2" r="1.65"/><circle cx="546.0" cy="119.2" r="1.65"/><circle cx="553.5" cy="116.2" r="1.65"/><circle cx="549.3" cy="123.5" r="1.65"/><circle cx="558.0" cy="123.5" r="1.65"/><circle cx="563.2" cy="126.2" r="1.65"/><circle cx="559.5" cy="128.2" r="1.65"/><circle cx="567.0" cy="117.2" r="1.65"/><circle cx="567.5" cy="119.0" r="1.65"/><circle cx="578.2" cy="122.0" r="1.65"/><circle cx="603.3" cy="64.2" r="1.65"/><circle cx="604.8" cy="66.8" r="1.65"/><circle cx="607.0" cy="79.0" r="1.65"/><circle cx="600.8" cy="84.0" r="1.65"/><circle cx="601.5" cy="86.2" r="1.65"/><circle cx="603.8" cy="85.0" r="1.65"/><circle cx="601.8" cy="95.5" r="1.65"/><circle cx="601.2" cy="98.2" r="1.65"/><circle cx="603.0" cy="99.8" r="1.65"/><circle cx="605.7" cy="99.8" r="1.65"/><circle cx="606.3" cy="104.2" r="1.65"/><circle cx="600.0" cy="104.2" r="1.65"/><circle cx="623.2" cy="68.5" r="1.65"/><circle cx="613.8" cy="91.0" r="1.65"/><circle cx="615.5" cy="102.8" r="1.65"/><circle cx="617.5" cy="105.4" r="1.65"/><circle cx="611.5" cy="105.4" r="1.65"/><circle cx="617.2" cy="111.8" r="1.65"/><circle cx="619.2" cy="112.8" r="1.65"/><circle cx="625.5" cy="112.8" r="1.65"/><circle cx="624.0" cy="114.3" r="1.65"/><circle cx="622.8" cy="116.2" r="1.65"/><circle cx="616.5" cy="116.2" r="1.65"/><circle cx="613.0" cy="116.2" r="1.65"/><circle cx="610.5" cy="117.3" r="1.65"/><circle cx="614.5" cy="119.7" r="1.65"/><circle cx="627.3" cy="119.7" r="1.65"/><circle cx="621.5" cy="119.7" r="1.65"/><circle cx="632.7" cy="99.8" r="1.65"/><circle cx="637.2" cy="105.4" r="1.65"/><circle cx="638.7" cy="96.8" r="1.65"/><circle cx="642.5" cy="96.8" r="1.65"/><circle cx="640.2" cy="91.0" r="1.65"/><circle cx="641.5" cy="87.8" r="1.65"/><circle cx="647.2" cy="78.8" r="1.65"/><circle cx="648.3" cy="84.8" r="1.65"/><circle cx="650.7" cy="95.2" r="1.65"/><circle cx="651.5" cy="103.9" r="1.65"/><circle cx="645.0" cy="108.3" r="1.65"/><circle cx="643.5" cy="109.8" r="1.65"/><circle cx="634.8" cy="114.8" r="1.65"/><circle cx="636.5" cy="114.8" r="1.65"/><circle cx="640.5" cy="114.8" r="1.65"/><circle cx="633.3" cy="117.8" r="1.65"/><circle cx="645.0" cy="117.3" r="1.65"/><circle cx="652.5" cy="117.3" r="1.65"/><circle cx="649.0" cy="119.7" r="1.65"/><circle cx="637.5" cy="119.7" r="1.65"/><circle cx="655.8" cy="70.0" r="1.65"/><circle cx="661.5" cy="68.5" r="1.65"/><circle cx="660.3" cy="74.5" r="1.65"/><circle cx="662.2" cy="77.5" r="1.65"/><circle cx="664.0" cy="83.5" r="1.65"/><circle cx="655.5" cy="90.8" r="1.65"/><circle cx="657.3" cy="91.0" r="1.65"/><circle cx="659.0" cy="92.2" r="1.65"/><circle cx="660.8" cy="98.2" r="1.65"/><circle cx="663.0" cy="98.2" r="1.65"/><circle cx="658.5" cy="102.8" r="1.65"/><circle cx="667.5" cy="99.8" r="1.65"/><circle cx="671.5" cy="91.0" r="1.65"/><circle cx="673.5" cy="96.8" r="1.65"/><circle cx="672.5" cy="104.2" r="1.65"/><circle cx="675.0" cy="104.2" r="1.65"/><circle cx="674.0" cy="107.2" r="1.65"/><circle cx="656.7" cy="111.8" r="1.65"/><circle cx="658.0" cy="113.2" r="1.65"/><circle cx="659.2" cy="114.3" r="1.65"/><circle cx="665.5" cy="114.8" r="1.65"/><circle cx="664.5" cy="116.2" r="1.65"/><circle cx="669.8" cy="111.8" r="1.65"/><circle cx="670.2" cy="113.2" r="1.65"/><circle cx="668.7" cy="118.2" r="1.65"/><circle cx="674.7" cy="118.5" r="1.65"/><circle cx="612.0" cy="123.0" r="1.65"/><circle cx="631.5" cy="122.2" r="1.65"/><circle cx="638.2" cy="123.3" r="1.65"/><circle cx="620.7" cy="125.2" r="1.65"/><circle cx="620.0" cy="127.8" r="1.65"/><circle cx="629.5" cy="126.8" r="1.65"/><circle cx="628.5" cy="129.3" r="1.65"/><circle cx="630.5" cy="129.3" r="1.65"/><circle cx="626.7" cy="130.8" r="1.65"/><circle cx="635.5" cy="126.3" r="1.65"/><circle cx="639.5" cy="129.3" r="1.65"/><circle cx="646.5" cy="127.8" r="1.65"/><circle cx="654.5" cy="126.3" r="1.65"/><circle cx="653.5" cy="128.2" r="1.65"/><circle cx="653.2" cy="132.3" r="1.65"/><circle cx="652.0" cy="135.3" r="1.65"/><circle cx="666.8" cy="127.8" r="1.65"/><circle cx="670.8" cy="127.8" r="1.65"/><circle cx="665.2" cy="135.3" r="1.65"/><circle cx="608.2" cy="130.8" r="1.65"/><circle cx="610.0" cy="139.5" r="1.65"/><circle cx="607.5" cy="142.8" r="1.65"/><circle cx="609.3" cy="144.8" r="1.65"/><circle cx="608.7" cy="147.3" r="1.65"/><circle cx="612.3" cy="142.8" r="1.65"/><circle cx="615.0" cy="145.8" r="1.65"/><circle cx="618.3" cy="139.8" r="1.65"/><circle cx="622.2" cy="138.3" r="1.65"/><circle cx="623.7" cy="139.8" r="1.65"/><circle cx="627.5" cy="138.3" r="1.65"/><circle cx="642.0" cy="138.3" r="1.65"/><circle cx="647.7" cy="138.3" r="1.65"/><circle cx="650.2" cy="142.8" r="1.65"/><circle cx="662.7" cy="142.8" r="1.65"/><circle cx="633.8" cy="145.8" r="1.65"/><circle cx="630.8" cy="153.3" r="1.65"/><circle cx="719.5" cy="121.8" r="1.65"/><circle cx="709.2" cy="126.3" r="1.65"/><circle cx="729.0" cy="123.3" r="1.65"/><circle cx="731.2" cy="125.2" r="1.65"/><circle cx="718.0" cy="130.8" r="1.65"/><circle cx="729.3" cy="134.2" r="1.65"/><circle cx="734.2" cy="136.8" r="1.65"/><circle cx="691.5" cy="139.8" r="1.65"/><circle cx="688.5" cy="142.8" r="1.65"/><circle cx="703.5" cy="139.8" r="1.65"/><circle cx="704.5" cy="142.8" r="1.65"/><circle cx="701.0" cy="144.3" r="1.65"/><circle cx="714.8" cy="139.8" r="1.65"/><circle cx="713.5" cy="141.3" r="1.65"/><circle cx="711.5" cy="143.2" r="1.65"/><circle cx="709.8" cy="145.8" r="1.65"/><circle cx="705.5" cy="145.8" r="1.65"/><circle cx="706.2" cy="148.5" r="1.65"/><circle cx="727.5" cy="141.3" r="1.65"/><circle cx="726.5" cy="144.3" r="1.65"/><circle cx="730.5" cy="145.8" r="1.65"/><circle cx="734.2" cy="148.5" r="1.65"/><circle cx="719.2" cy="147.3" r="1.65"/><circle cx="718.5" cy="150.3" r="1.65"/><circle cx="722.2" cy="150.3" r="1.65"/><circle cx="725.2" cy="151.8" r="1.65"/><circle cx="732.0" cy="153.3" r="1.65"/><circle cx="677.7" cy="147.3" r="1.65"/><circle cx="689.7" cy="150.3" r="1.65"/><circle cx="710.5" cy="153.0" r="1.65"/><circle cx="701.5" cy="154.8" r="1.65"/><circle cx="696.0" cy="154.8" r="1.65"/><circle cx="693.8" cy="156.0" r="1.65"/><circle cx="691.5" cy="156.8" r="1.65"/><circle cx="685.5" cy="156.0" r="1.65"/><circle cx="689.2" cy="160.5" r="1.65"/><circle cx="693.5" cy="160.8" r="1.65"/><circle cx="680.5" cy="160.5" r="1.65"/><circle cx="681.0" cy="162.3" r="1.65"/><circle cx="699.0" cy="162.0" r="1.65"/><circle cx="704.2" cy="157.5" r="1.65"/><circle cx="707.7" cy="159.3" r="1.65"/><circle cx="712.2" cy="157.5" r="1.65"/><circle cx="715.5" cy="157.5" r="1.65"/><circle cx="717.3" cy="155.2" r="1.65"/><circle cx="721.5" cy="156.0" r="1.65"/><circle cx="723.8" cy="156.8" r="1.65"/><circle cx="728.0" cy="162.0" r="1.65"/><circle cx="711.0" cy="162.0" r="1.65"/><circle cx="708.8" cy="163.8" r="1.65"/><circle cx="716.0" cy="163.5" r="1.65"/><circle cx="706.5" cy="166.8" r="1.65"/><circle cx="735.0" cy="165.0" r="1.65"/><circle cx="679.0" cy="168.0" r="1.65"/><circle cx="684.0" cy="168.0" r="1.65"/><circle cx="681.8" cy="171.3" r="1.65"/><circle cx="690.5" cy="169.5" r="1.65"/><circle cx="694.2" cy="169.5" r="1.65"/><circle cx="692.7" cy="171.0" r="1.65"/><circle cx="698.5" cy="174.0" r="1.65"/><circle cx="702.3" cy="175.8" r="1.65"/><circle cx="713.5" cy="172.5" r="1.65"/><circle cx="723.0" cy="173.7" r="1.65"/><circle cx="726.0" cy="175.5" r="1.65"/><circle cx="729.0" cy="175.5" r="1.65"/><circle cx="732.0" cy="175.5" r="1.65"/><circle cx="720.5" cy="177.0" r="1.65"/><circle cx="717.0" cy="178.5" r="1.65"/><circle cx="711.8" cy="179.2" r="1.65"/><circle cx="677.2" cy="175.8" r="1.65"/><circle cx="678.0" cy="177.8" r="1.65"/><circle cx="682.5" cy="178.2" r="1.65"/><circle cx="684.8" cy="178.2" r="1.65"/><circle cx="676.5" cy="181.3" r="1.65"/><circle cx="682.2" cy="182.8" r="1.65"/><circle cx="686.7" cy="182.8" r="1.65"/><circle cx="687.8" cy="184.3" r="1.65"/><circle cx="695.5" cy="182.8" r="1.65"/><circle cx="697.8" cy="181.3" r="1.65"/><circle cx="699.8" cy="182.8" r="1.65"/><circle cx="724.8" cy="181.3" r="1.65"/><circle cx="697.2" cy="187.3" r="1.65"/><circle cx="700.5" cy="188.8" r="1.65"/><circle cx="703.0" cy="188.8" r="1.65"/><circle cx="721.8" cy="187.3" r="1.65"/><circle cx="733.5" cy="188.8" r="1.65"/><circle cx="675.8" cy="193.3" r="1.65"/><circle cx="679.5" cy="194.8" r="1.65"/><circle cx="686.5" cy="200.8" r="1.65"/><circle cx="740.2" cy="166.5" r="1.65"/><circle cx="735.8" cy="165.8" r="1.65"/><circle cx="794.5" cy="169.5" r="1.65"/><circle cx="810.5" cy="174.0" r="1.65"/><circle cx="795.8" cy="177.0" r="1.65"/><circle cx="787.5" cy="178.5" r="1.65"/><circle cx="803.5" cy="183.0" r="1.65"/><circle cx="812.2" cy="188.7" r="1.65"/><circle cx="772.0" cy="185.7" r="1.65"/><circle cx="773.5" cy="186.0" r="1.65"/><circle cx="777.5" cy="185.7" r="1.65"/><circle cx="767.5" cy="192.0" r="1.65"/><circle cx="774.0" cy="192.0" r="1.65"/><circle cx="777.0" cy="192.0" r="1.65"/><circle cx="775.2" cy="194.7" r="1.65"/><circle cx="799.5" cy="191.7" r="1.65"/><circle cx="801.0" cy="193.2" r="1.65"/><circle cx="804.3" cy="193.2" r="1.65"/><circle cx="798.8" cy="196.2" r="1.65"/><circle cx="802.5" cy="196.2" r="1.65"/><circle cx="805.5" cy="197.7" r="1.65"/><circle cx="762.5" cy="199.2" r="1.65"/><circle cx="767.0" cy="200.7" r="1.65"/><circle cx="776.2" cy="199.2" r="1.65"/><circle cx="774.5" cy="202.2" r="1.65"/><circle cx="810.8" cy="200.7" r="1.65"/><circle cx="807.8" cy="202.2" r="1.65"/><circle cx="808.5" cy="205.2" r="1.65"/><circle cx="748.8" cy="205.2" r="1.65"/><circle cx="778.2" cy="205.2" r="1.65"/><circle cx="781.5" cy="205.2" r="1.65"/><circle cx="783.0" cy="206.2" r="1.65"/><circle cx="786.8" cy="206.2" r="1.65"/><circle cx="789.8" cy="204.0" r="1.65"/><circle cx="792.0" cy="203.7" r="1.65"/><circle cx="789.3" cy="206.7" r="1.65"/><circle cx="798.0" cy="205.2" r="1.65"/><circle cx="772.5" cy="208.2" r="1.65"/><circle cx="780.0" cy="209.7" r="1.65"/><circle cx="757.0" cy="209.7" r="1.65"/><circle cx="763.2" cy="209.7" r="1.65"/><circle cx="744.8" cy="210.8" r="1.65"/><circle cx="745.5" cy="214.2" r="1.65"/><circle cx="751.8" cy="212.7" r="1.65"/><circle cx="761.7" cy="212.7" r="1.65"/><circle cx="760.5" cy="214.2" r="1.65"/><circle cx="763.8" cy="215.7" r="1.65"/><circle cx="757.5" cy="216.8" r="1.65"/><circle cx="754.5" cy="217.5" r="1.65"/><circle cx="753.0" cy="218.2" r="1.65"/><circle cx="750.0" cy="216.8" r="1.65"/><circle cx="749.2" cy="219.8" r="1.65"/><circle cx="746.2" cy="221.7" r="1.65"/><circle cx="755.2" cy="221.7" r="1.65"/><circle cx="751.5" cy="224.2" r="1.65"/><circle cx="747.8" cy="224.7" r="1.65"/><circle cx="759.0" cy="224.7" r="1.65"/><circle cx="768.3" cy="222.8" r="1.65"/><circle cx="770.2" cy="222.8" r="1.65"/><circle cx="771.5" cy="218.2" r="1.65"/><circle cx="775.5" cy="218.2" r="1.65"/><circle cx="779.5" cy="218.2" r="1.65"/><circle cx="782.2" cy="221.2" r="1.65"/><circle cx="785.2" cy="223.5" r="1.65"/><circle cx="788.2" cy="222.8" r="1.65"/><circle cx="780.8" cy="212.7" r="1.65"/><circle cx="783.8" cy="216.8" r="1.65"/><circle cx="790.5" cy="209.7" r="1.65"/><circle cx="792.0" cy="209.2" r="1.65"/><circle cx="789.3" cy="211.2" r="1.65"/><circle cx="797.0" cy="211.2" r="1.65"/><circle cx="800.0" cy="210.8" r="1.65"/><circle cx="800.7" cy="208.5" r="1.65"/><circle cx="804.0" cy="209.7" r="1.65"/><circle cx="806.5" cy="212.7" r="1.65"/><circle cx="793.5" cy="215.7" r="1.65"/><circle cx="795.8" cy="217.5" r="1.65"/><circle cx="794.5" cy="219.3" r="1.65"/><circle cx="793.2" cy="220.5" r="1.65"/><circle cx="802.0" cy="221.2" r="1.65"/><circle cx="809.0" cy="216.8" r="1.65"/><circle cx="809.5" cy="220.2" r="1.65"/><circle cx="805.5" cy="223.8" r="1.65"/><circle cx="807.8" cy="224.2" r="1.65"/><circle cx="823.5" cy="206.7" r="1.65"/><circle cx="846.3" cy="217.2" r="1.65"/><circle cx="868.0" cy="208.2" r="1.65"/><circle cx="862.8" cy="210.8" r="1.65"/><circle cx="861.0" cy="213.8" r="1.65"/><circle cx="860.2" cy="216.8" r="1.65"/><circle cx="866.7" cy="222.8" r="1.65"/><circle cx="833.2" cy="224.2" r="1.65"/><circle cx="845.2" cy="224.2" r="1.65"/><circle cx="821.7" cy="225.0" r="1.65"/><circle cx="828.0" cy="225.0" r="1.65"/><circle cx="760.5" cy="227.6" r="1.65"/><circle cx="811.5" cy="228.8" r="1.65"/><circle cx="765.8" cy="230.6" r="1.65"/><circle cx="758.0" cy="231.8" r="1.65"/><circle cx="769.8" cy="231.8" r="1.65"/><circle cx="770.5" cy="233.2" r="1.65"/><circle cx="787.0" cy="230.6" r="1.65"/><circle cx="755.5" cy="236.2" r="1.65"/><circle cx="759.3" cy="236.2" r="1.65"/><circle cx="761.2" cy="235.1" r="1.65"/><circle cx="766.2" cy="236.2" r="1.65"/><circle cx="791.2" cy="236.2" r="1.65"/><circle cx="746.7" cy="240.8" r="1.65"/><circle cx="744.3" cy="245.2" r="1.65"/><circle cx="778.5" cy="239.2" r="1.65"/><circle cx="782.5" cy="240.8" r="1.65"/><circle cx="764.2" cy="246.8" r="1.65"/><circle cx="785.2" cy="251.2" r="1.65"/><circle cx="765.0" cy="258.8" r="1.65"/><circle cx="817.5" cy="230.6" r="1.65"/><circle cx="818.2" cy="233.2" r="1.65"/><circle cx="815.0" cy="234.8" r="1.65"/><circle cx="816.8" cy="239.2" r="1.65"/><circle cx="820.5" cy="239.6" r="1.65"/><circle cx="822.0" cy="240.0" r="1.65"/><circle cx="840.5" cy="233.2" r="1.65"/><circle cx="850.2" cy="233.6" r="1.65"/><circle cx="848.5" cy="235.1" r="1.65"/><circle cx="843.8" cy="236.2" r="1.65"/><circle cx="845.0" cy="237.8" r="1.65"/><circle cx="831.0" cy="237.8" r="1.65"/><circle cx="834.0" cy="237.8" r="1.65"/><circle cx="838.5" cy="240.8" r="1.65"/><circle cx="836.5" cy="243.8" r="1.65"/><circle cx="827.0" cy="242.2" r="1.65"/><circle cx="829.0" cy="245.2" r="1.65"/><circle cx="824.5" cy="246.8" r="1.65"/><circle cx="832.5" cy="248.2" r="1.65"/><circle cx="849.3" cy="240.8" r="1.65"/><circle cx="846.0" cy="246.8" r="1.65"/><circle cx="842.7" cy="249.8" r="1.65"/><circle cx="853.0" cy="246.8" r="1.65"/><circle cx="855.0" cy="247.5" r="1.65"/><circle cx="856.5" cy="246.8" r="1.65"/><circle cx="858.0" cy="249.8" r="1.65"/><circle cx="861.5" cy="233.6" r="1.65"/><circle cx="864.5" cy="235.1" r="1.65"/><circle cx="859.5" cy="236.2" r="1.65"/><circle cx="869.2" cy="235.5" r="1.65"/><circle cx="865.5" cy="239.2" r="1.65"/><circle cx="866.0" cy="246.8" r="1.65"/><circle cx="869.2" cy="248.2" r="1.65"/><circle cx="867.3" cy="255.8" r="1.65"/><circle cx="868.5" cy="260.2" r="1.65"/><circle cx="863.2" cy="260.2" r="1.65"/><circle cx="862.2" cy="264.8" r="1.65"/><circle cx="849.8" cy="254.2" r="1.65"/><circle cx="835.8" cy="254.2" r="1.65"/><circle cx="824.0" cy="254.2" r="1.65"/><circle cx="841.0" cy="256.8" r="1.65"/><circle cx="839.0" cy="260.2" r="1.65"/><circle cx="843.0" cy="262.5" r="1.65"/><circle cx="840.0" cy="264.3" r="1.65"/><circle cx="835.5" cy="263.2" r="1.65"/><circle cx="825.5" cy="258.8" r="1.65"/><circle cx="825.8" cy="264.8" r="1.65"/><circle cx="816.0" cy="263.2" r="1.65"/><circle cx="814.5" cy="255.8" r="1.65"/><circle cx="813.0" cy="257.2" r="1.65"/><circle cx="813.8" cy="267.8" r="1.65"/><circle cx="812.5" cy="273.3" r="1.65"/><circle cx="820.0" cy="270.3" r="1.65"/><circle cx="819.5" cy="272.2" r="1.65"/><circle cx="828.3" cy="268.8" r="1.65"/><circle cx="826.8" cy="270.3" r="1.65"/><circle cx="829.5" cy="273.3" r="1.65"/><circle cx="834.8" cy="274.8" r="1.65"/><circle cx="837.0" cy="276.3" r="1.65"/><circle cx="831.5" cy="279.3" r="1.65"/><circle cx="837.8" cy="283.5" r="1.65"/><circle cx="852.5" cy="283.5" r="1.65"/><circle cx="847.5" cy="273.3" r="1.65"/><circle cx="851.0" cy="274.8" r="1.65"/><circle cx="854.2" cy="270.3" r="1.65"/><circle cx="859.0" cy="274.8" r="1.65"/><circle cx="851.7" cy="261.0" r="1.65"/><circle cx="853.5" cy="262.5" r="1.65"/><circle cx="855.8" cy="258.8" r="1.65"/><circle cx="858.0" cy="260.2" r="1.65"/><circle cx="822.8" cy="293.0" r="1.65"/><circle cx="832.8" cy="298.7" r="1.65"/><circle cx="856.0" cy="301.7" r="1.65"/><circle cx="874.8" cy="217.0" r="1.65"/><circle cx="876.0" cy="218.2" r="1.65"/><circle cx="871.5" cy="224.5" r="1.65"/><circle cx="872.5" cy="226.0" r="1.65"/><circle cx="880.5" cy="239.2" r="1.65"/><circle cx="872.5" cy="239.2" r="1.65"/><circle cx="874.0" cy="240.5" r="1.65"/><circle cx="878.0" cy="243.8" r="1.65"/><circle cx="878.5" cy="248.0" r="1.65"/><circle cx="877.0" cy="251.0" r="1.65"/><circle cx="879.5" cy="252.5" r="1.65"/><circle cx="873.7" cy="258.8" r="1.65"/><circle cx="875.5" cy="270.5" r="1.65"/><circle cx="743.5" cy="123.5" r="1.65"/><circle cx="736.2" cy="139.5" r="1.65"/><circle cx="741.7" cy="136.8" r="1.65"/><circle cx="742.5" cy="141.2" r="1.65"/><circle cx="739.5" cy="145.5" r="1.65"/><circle cx="741.2" cy="145.8" r="1.65"/><circle cx="738.5" cy="150.0" r="1.65"/><circle cx="737.5" cy="159.2" r="1.65"/><circle cx="740.5" cy="159.2" r="1.65"/><circle cx="743.2" cy="162.2" r="1.65"/><circle cx="737.5" cy="163.5" r="1.65"/><circle cx="64.5" cy="261.0" r="1.65"/><circle cx="68.5" cy="263.5" r="1.65"/><circle cx="72.0" cy="260.0" r="1.65"/><circle cx="73.5" cy="257.0" r="1.65"/><circle cx="100.0" cy="265.0" r="1.65"/><circle cx="100.5" cy="266.4" r="1.65"/><circle cx="105.0" cy="266.0" r="1.65"/><circle cx="105.5" cy="267.7" r="1.65"/><circle cx="126.0" cy="266.0" r="1.65"/><circle cx="135.5" cy="257.5" r="1.65"/><circle cx="77.1" cy="268.2" r="1.65"/><circle cx="70.8" cy="251.7" r="1.65"/><circle cx="90.3" cy="240.5" r="1.65"/><circle cx="107.2" cy="251.1" r="1.65"/><circle cx="120.4" cy="239.9" r="1.65"/><circle cx="125.4" cy="264.6" r="1.65"/><circle cx="132.9" cy="277.6" r="1.65"/><circle cx="156.8" cy="242.0" r="1.65"/><circle cx="166.2" cy="229.2" r="1.65"/><circle cx="180.0" cy="265.2" r="1.65"/><circle cx="175.6" cy="231.9" r="1.65"/><circle cx="188.2" cy="258.9" r="1.65"/><circle cx="190.7" cy="255.6" r="1.65"/><circle cx="202.6" cy="253.2" r="1.65"/><circle cx="201.3" cy="251.8" r="1.65"/><circle cx="208.9" cy="241.2" r="1.65"/><circle cx="221.4" cy="214.1" r="1.65"/><circle cx="240.2" cy="245.3" r="1.65"/><circle cx="244.0" cy="216.8" r="1.65"/><circle cx="271.0" cy="189.2" r="1.65"/><circle cx="287.3" cy="221.8" r="1.65"/><circle cx="301.1" cy="209.5" r="1.65"/><circle cx="297.3" cy="196.3" r="1.65"/><circle cx="311.1" cy="188.2" r="1.65"/><circle cx="324.9" cy="179.9" r="1.65"/><circle cx="335.0" cy="198.9" r="1.65"/><circle cx="350.0" cy="165.2" r="1.65"/><circle cx="351.9" cy="182.7" r="1.65"/><circle cx="371.4" cy="165.2" r="1.65"/><circle cx="367.0" cy="129.8" r="1.65"/><circle cx="365.1" cy="195.8" r="1.65"/><circle cx="363.8" cy="178.8" r="1.65"/><circle cx="381.4" cy="176.9" r="1.65"/><circle cx="392.1" cy="177.3" r="1.65"/><circle cx="393.9" cy="174.2" r="1.65"/><circle cx="404.0" cy="149.2" r="1.65"/><circle cx="417.2" cy="137.8" r="1.65"/><circle cx="422.2" cy="141.2" r="1.65"/><circle cx="424.7" cy="181.2" r="1.65"/><circle cx="426.6" cy="136.7" r="1.65"/><circle cx="431.6" cy="136.7" r="1.65"/><circle cx="446.0" cy="143.8" r="1.65"/><circle cx="451.0" cy="118.7" r="1.65"/><circle cx="481.8" cy="102.8" r="1.65"/><circle cx="500.0" cy="108.5" r="1.65"/><circle cx="503.1" cy="94.8" r="1.65"/><circle cx="506.2" cy="83.0" r="1.65"/><circle cx="523.8" cy="81.0" r="1.65"/><circle cx="532.6" cy="99.5" r="1.65"/><circle cx="542.0" cy="116.3" r="1.65"/><circle cx="557.1" cy="82.2" r="1.65"/><circle cx="562.7" cy="127.2" r="1.65"/><circle cx="584.0" cy="90.2" r="1.65"/><circle cx="616.0" cy="114.8" r="1.65"/><circle cx="617.9" cy="104.0" r="1.65"/><circle cx="632.4" cy="123.7" r="1.65"/><circle cx="624.8" cy="114.2" r="1.65"/><circle cx="626.1" cy="111.4" r="1.65"/><circle cx="644.3" cy="109.3" r="1.65"/><circle cx="645.5" cy="106.9" r="1.65"/><circle cx="643.0" cy="111.2" r="1.65"/><circle cx="668.1" cy="117.2" r="1.65"/><circle cx="666.2" cy="126.4" r="1.65"/><circle cx="669.4" cy="112.8" r="1.65"/><circle cx="683.2" cy="169.4" r="1.65"/><circle cx="692.0" cy="141.2" r="1.65"/><circle cx="690.1" cy="148.9" r="1.65"/><circle cx="695.1" cy="181.4" r="1.65"/><circle cx="700.1" cy="181.4" r="1.65"/><circle cx="732.7" cy="154.7" r="1.65"/><circle cx="723.3" cy="157.8" r="1.65"/><circle cx="739.0" cy="146.5" r="1.65"/><circle cx="750.9" cy="223.2" r="1.65"/><circle cx="747.2" cy="239.3" r="1.65"/><circle cx="753.4" cy="218.5" r="1.65"/><circle cx="758.5" cy="230.3" r="1.65"/><circle cx="756.6" cy="208.3" r="1.65"/><circle cx="769.1" cy="230.3" r="1.65"/><circle cx="786.1" cy="204.8" r="1.65"/><circle cx="803.0" cy="195.2" r="1.65"/><circle cx="797.4" cy="212.6" r="1.65"/><circle cx="821.2" cy="226.0" r="1.65"/><circle cx="815.6" cy="264.2" r="1.65"/><circle cx="818.7" cy="232.2" r="1.65"/><circle cx="841.9" cy="248.3" r="1.65"/><circle cx="839.4" cy="261.2" r="1.65"/><circle cx="846.9" cy="274.3" r="1.65"/><circle cx="857.0" cy="247.8" r="1.65"/><circle cx="870.1" cy="234.5" r="1.65"/><circle cx="873.3" cy="227.4" r="1.65"/><circle cx="870.8" cy="225.9" r="1.65"/><circle cx="863.9" cy="236.5" r="1.65"/><circle cx="878.9" cy="249.4" r="1.65"/><circle cx="876.4" cy="216.8" r="1.65"/>
</g>
<text x="94.5" y="376" font-size="12.3" fill="#666" text-anchor="middle">Jan</text>
<text x="163.0" y="376" font-size="12.3" fill="#666" text-anchor="middle">Feb</text>
<text x="232.2" y="376" font-size="12.3" fill="#666" text-anchor="middle">Mar</text>
<text x="299.0" y="376" font-size="12.3" fill="#666" text-anchor="middle">Apr</text>
<text x="370.0" y="376" font-size="12.3" fill="#666" text-anchor="middle">May</text>
<text x="436.0" y="376" font-size="12.3" fill="#666" text-anchor="middle">Jun</text>
<text x="501.8" y="376" font-size="12.3" fill="#666" text-anchor="middle">Jul</text>
<text x="574.0" y="376" font-size="12.3" fill="#666" text-anchor="middle">Aug</text>
<text x="641.5" y="376" font-size="12.3" fill="#666" text-anchor="middle">Sep</text>
<text x="708.5" y="376" font-size="12.3" fill="#666" text-anchor="middle">Oct</text>
<text x="778.3" y="376" font-size="12.3" fill="#666" text-anchor="middle">Nov</text>
<text x="847.0" y="376" font-size="12.3" fill="#666" text-anchor="middle">Dec</text>
<text x="450.1" y="21.7" font-size="16" fill="#1a1a1a" text-anchor="middle" textLength="291.2" lengthAdjust="spacing">Monthly Mean Temperatures 1901 - 2009</text>
<text transform="translate(19,194) rotate(-90)" font-size="12.6" fill="#666" text-anchor="middle" textLength="73.5" lengthAdjust="spacing">Temperature</text>
<text x="11" y="395" font-size="10.5" fill="#aaa">Latitude 38.75 Longitude -9.25</text>
<text x="878.5" y="395" font-size="10.5" fill="#aaa" text-anchor="end">worldspecies.org</text>
<rect x="65.5" y="35" width="86" height="17" rx="7" ry="7" fill="#ffffff" filter="url(#sh)"/>
<rect x="75" y="41" width="5" height="5" fill="#0bb70b"/>
<text x="87" y="47" font-size="10.3" fill="#111">Mean Temp</text>
</g></svg></body></html>
